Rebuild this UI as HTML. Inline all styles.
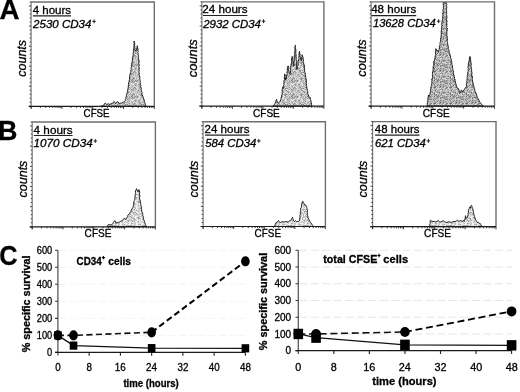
<!DOCTYPE html>
<html><head><meta charset="utf-8"><title>Figure</title>
<style>
html,body{margin:0;padding:0;background:#fff;}
body{width:520px;height:392px;overflow:hidden;}
svg{display:block;filter:blur(0.35px);}
text{font-family:"Liberation Sans",sans-serif;stroke:#000;stroke-width:0.3px;}
</style></head><body>
<svg width="520" height="392" viewBox="0 0 520 392">
<rect width="520" height="392" fill="#fff"/>
<defs><pattern id="stA" width="16" height="16" patternUnits="userSpaceOnUse"><rect x="0" y="0" width="1" height="1" fill="#d0d0d0"/><rect x="1" y="0" width="1" height="1" fill="#a8a8a8"/><rect x="2" y="0" width="1" height="1" fill="#d0d0d0"/><rect x="3" y="0" width="1" height="1" fill="#888888"/><rect x="4" y="0" width="1" height="1" fill="#a8a8a8"/><rect x="5" y="0" width="1" height="1" fill="#a8a8a8"/><rect x="6" y="0" width="1" height="1" fill="#d0d0d0"/><rect x="7" y="0" width="1" height="1" fill="#888888"/><rect x="8" y="0" width="1" height="1" fill="#bcbcbc"/><rect x="9" y="0" width="1" height="1" fill="#888888"/><rect x="10" y="0" width="1" height="1" fill="#a8a8a8"/><rect x="11" y="0" width="1" height="1" fill="#e4e4e4"/><rect x="12" y="0" width="1" height="1" fill="#e4e4e4"/><rect x="13" y="0" width="1" height="1" fill="#a8a8a8"/><rect x="14" y="0" width="1" height="1" fill="#bcbcbc"/><rect x="15" y="0" width="1" height="1" fill="#a8a8a8"/><rect x="0" y="1" width="1" height="1" fill="#e4e4e4"/><rect x="1" y="1" width="1" height="1" fill="#888888"/><rect x="2" y="1" width="1" height="1" fill="#a8a8a8"/><rect x="3" y="1" width="1" height="1" fill="#bcbcbc"/><rect x="4" y="1" width="1" height="1" fill="#888888"/><rect x="5" y="1" width="1" height="1" fill="#d0d0d0"/><rect x="6" y="1" width="1" height="1" fill="#888888"/><rect x="7" y="1" width="1" height="1" fill="#bcbcbc"/><rect x="8" y="1" width="1" height="1" fill="#888888"/><rect x="9" y="1" width="1" height="1" fill="#a8a8a8"/><rect x="10" y="1" width="1" height="1" fill="#d0d0d0"/><rect x="11" y="1" width="1" height="1" fill="#e4e4e4"/><rect x="12" y="1" width="1" height="1" fill="#a8a8a8"/><rect x="13" y="1" width="1" height="1" fill="#a8a8a8"/><rect x="14" y="1" width="1" height="1" fill="#d0d0d0"/><rect x="15" y="1" width="1" height="1" fill="#bcbcbc"/><rect x="0" y="2" width="1" height="1" fill="#a8a8a8"/><rect x="1" y="2" width="1" height="1" fill="#bcbcbc"/><rect x="2" y="2" width="1" height="1" fill="#d0d0d0"/><rect x="3" y="2" width="1" height="1" fill="#a8a8a8"/><rect x="4" y="2" width="1" height="1" fill="#a8a8a8"/><rect x="5" y="2" width="1" height="1" fill="#888888"/><rect x="6" y="2" width="1" height="1" fill="#bcbcbc"/><rect x="7" y="2" width="1" height="1" fill="#e4e4e4"/><rect x="8" y="2" width="1" height="1" fill="#e4e4e4"/><rect x="9" y="2" width="1" height="1" fill="#d0d0d0"/><rect x="10" y="2" width="1" height="1" fill="#e4e4e4"/><rect x="11" y="2" width="1" height="1" fill="#e4e4e4"/><rect x="12" y="2" width="1" height="1" fill="#d0d0d0"/><rect x="13" y="2" width="1" height="1" fill="#d0d0d0"/><rect x="14" y="2" width="1" height="1" fill="#bcbcbc"/><rect x="15" y="2" width="1" height="1" fill="#bcbcbc"/><rect x="0" y="3" width="1" height="1" fill="#bcbcbc"/><rect x="1" y="3" width="1" height="1" fill="#a8a8a8"/><rect x="2" y="3" width="1" height="1" fill="#d0d0d0"/><rect x="3" y="3" width="1" height="1" fill="#e4e4e4"/><rect x="4" y="3" width="1" height="1" fill="#d0d0d0"/><rect x="5" y="3" width="1" height="1" fill="#e4e4e4"/><rect x="6" y="3" width="1" height="1" fill="#d0d0d0"/><rect x="7" y="3" width="1" height="1" fill="#a8a8a8"/><rect x="8" y="3" width="1" height="1" fill="#a8a8a8"/><rect x="9" y="3" width="1" height="1" fill="#e4e4e4"/><rect x="10" y="3" width="1" height="1" fill="#bcbcbc"/><rect x="11" y="3" width="1" height="1" fill="#d0d0d0"/><rect x="12" y="3" width="1" height="1" fill="#a8a8a8"/><rect x="13" y="3" width="1" height="1" fill="#e4e4e4"/><rect x="14" y="3" width="1" height="1" fill="#e4e4e4"/><rect x="15" y="3" width="1" height="1" fill="#888888"/><rect x="0" y="4" width="1" height="1" fill="#a8a8a8"/><rect x="1" y="4" width="1" height="1" fill="#d0d0d0"/><rect x="2" y="4" width="1" height="1" fill="#d0d0d0"/><rect x="3" y="4" width="1" height="1" fill="#d0d0d0"/><rect x="4" y="4" width="1" height="1" fill="#e4e4e4"/><rect x="5" y="4" width="1" height="1" fill="#e4e4e4"/><rect x="6" y="4" width="1" height="1" fill="#a8a8a8"/><rect x="7" y="4" width="1" height="1" fill="#a8a8a8"/><rect x="8" y="4" width="1" height="1" fill="#bcbcbc"/><rect x="9" y="4" width="1" height="1" fill="#e4e4e4"/><rect x="10" y="4" width="1" height="1" fill="#a8a8a8"/><rect x="11" y="4" width="1" height="1" fill="#888888"/><rect x="12" y="4" width="1" height="1" fill="#d0d0d0"/><rect x="13" y="4" width="1" height="1" fill="#e4e4e4"/><rect x="14" y="4" width="1" height="1" fill="#d0d0d0"/><rect x="15" y="4" width="1" height="1" fill="#d0d0d0"/><rect x="0" y="5" width="1" height="1" fill="#d0d0d0"/><rect x="1" y="5" width="1" height="1" fill="#888888"/><rect x="2" y="5" width="1" height="1" fill="#e4e4e4"/><rect x="3" y="5" width="1" height="1" fill="#d0d0d0"/><rect x="4" y="5" width="1" height="1" fill="#bcbcbc"/><rect x="5" y="5" width="1" height="1" fill="#a8a8a8"/><rect x="6" y="5" width="1" height="1" fill="#e4e4e4"/><rect x="7" y="5" width="1" height="1" fill="#888888"/><rect x="8" y="5" width="1" height="1" fill="#bcbcbc"/><rect x="9" y="5" width="1" height="1" fill="#d0d0d0"/><rect x="10" y="5" width="1" height="1" fill="#a8a8a8"/><rect x="11" y="5" width="1" height="1" fill="#bcbcbc"/><rect x="12" y="5" width="1" height="1" fill="#d0d0d0"/><rect x="13" y="5" width="1" height="1" fill="#d0d0d0"/><rect x="14" y="5" width="1" height="1" fill="#e4e4e4"/><rect x="15" y="5" width="1" height="1" fill="#a8a8a8"/><rect x="0" y="6" width="1" height="1" fill="#bcbcbc"/><rect x="1" y="6" width="1" height="1" fill="#e4e4e4"/><rect x="2" y="6" width="1" height="1" fill="#d0d0d0"/><rect x="3" y="6" width="1" height="1" fill="#bcbcbc"/><rect x="4" y="6" width="1" height="1" fill="#a8a8a8"/><rect x="5" y="6" width="1" height="1" fill="#e4e4e4"/><rect x="6" y="6" width="1" height="1" fill="#bcbcbc"/><rect x="7" y="6" width="1" height="1" fill="#e4e4e4"/><rect x="8" y="6" width="1" height="1" fill="#d0d0d0"/><rect x="9" y="6" width="1" height="1" fill="#d0d0d0"/><rect x="10" y="6" width="1" height="1" fill="#bcbcbc"/><rect x="11" y="6" width="1" height="1" fill="#a8a8a8"/><rect x="12" y="6" width="1" height="1" fill="#a8a8a8"/><rect x="13" y="6" width="1" height="1" fill="#bcbcbc"/><rect x="14" y="6" width="1" height="1" fill="#a8a8a8"/><rect x="15" y="6" width="1" height="1" fill="#bcbcbc"/><rect x="0" y="7" width="1" height="1" fill="#bcbcbc"/><rect x="1" y="7" width="1" height="1" fill="#888888"/><rect x="2" y="7" width="1" height="1" fill="#e4e4e4"/><rect x="3" y="7" width="1" height="1" fill="#bcbcbc"/><rect x="4" y="7" width="1" height="1" fill="#bcbcbc"/><rect x="5" y="7" width="1" height="1" fill="#d0d0d0"/><rect x="6" y="7" width="1" height="1" fill="#888888"/><rect x="7" y="7" width="1" height="1" fill="#a8a8a8"/><rect x="8" y="7" width="1" height="1" fill="#e4e4e4"/><rect x="9" y="7" width="1" height="1" fill="#d0d0d0"/><rect x="10" y="7" width="1" height="1" fill="#d0d0d0"/><rect x="11" y="7" width="1" height="1" fill="#a8a8a8"/><rect x="12" y="7" width="1" height="1" fill="#888888"/><rect x="13" y="7" width="1" height="1" fill="#e4e4e4"/><rect x="14" y="7" width="1" height="1" fill="#d0d0d0"/><rect x="15" y="7" width="1" height="1" fill="#d0d0d0"/><rect x="0" y="8" width="1" height="1" fill="#d0d0d0"/><rect x="1" y="8" width="1" height="1" fill="#d0d0d0"/><rect x="2" y="8" width="1" height="1" fill="#a8a8a8"/><rect x="3" y="8" width="1" height="1" fill="#e4e4e4"/><rect x="4" y="8" width="1" height="1" fill="#d0d0d0"/><rect x="5" y="8" width="1" height="1" fill="#888888"/><rect x="6" y="8" width="1" height="1" fill="#bcbcbc"/><rect x="7" y="8" width="1" height="1" fill="#a8a8a8"/><rect x="8" y="8" width="1" height="1" fill="#bcbcbc"/><rect x="9" y="8" width="1" height="1" fill="#e4e4e4"/><rect x="10" y="8" width="1" height="1" fill="#bcbcbc"/><rect x="11" y="8" width="1" height="1" fill="#a8a8a8"/><rect x="12" y="8" width="1" height="1" fill="#d0d0d0"/><rect x="13" y="8" width="1" height="1" fill="#888888"/><rect x="14" y="8" width="1" height="1" fill="#a8a8a8"/><rect x="15" y="8" width="1" height="1" fill="#888888"/><rect x="0" y="9" width="1" height="1" fill="#a8a8a8"/><rect x="1" y="9" width="1" height="1" fill="#a8a8a8"/><rect x="2" y="9" width="1" height="1" fill="#d0d0d0"/><rect x="3" y="9" width="1" height="1" fill="#888888"/><rect x="4" y="9" width="1" height="1" fill="#a8a8a8"/><rect x="5" y="9" width="1" height="1" fill="#bcbcbc"/><rect x="6" y="9" width="1" height="1" fill="#d0d0d0"/><rect x="7" y="9" width="1" height="1" fill="#a8a8a8"/><rect x="8" y="9" width="1" height="1" fill="#bcbcbc"/><rect x="9" y="9" width="1" height="1" fill="#d0d0d0"/><rect x="10" y="9" width="1" height="1" fill="#d0d0d0"/><rect x="11" y="9" width="1" height="1" fill="#e4e4e4"/><rect x="12" y="9" width="1" height="1" fill="#a8a8a8"/><rect x="13" y="9" width="1" height="1" fill="#a8a8a8"/><rect x="14" y="9" width="1" height="1" fill="#e4e4e4"/><rect x="15" y="9" width="1" height="1" fill="#e4e4e4"/><rect x="0" y="10" width="1" height="1" fill="#e4e4e4"/><rect x="1" y="10" width="1" height="1" fill="#e4e4e4"/><rect x="2" y="10" width="1" height="1" fill="#d0d0d0"/><rect x="3" y="10" width="1" height="1" fill="#a8a8a8"/><rect x="4" y="10" width="1" height="1" fill="#a8a8a8"/><rect x="5" y="10" width="1" height="1" fill="#a8a8a8"/><rect x="6" y="10" width="1" height="1" fill="#d0d0d0"/><rect x="7" y="10" width="1" height="1" fill="#bcbcbc"/><rect x="8" y="10" width="1" height="1" fill="#e4e4e4"/><rect x="9" y="10" width="1" height="1" fill="#bcbcbc"/><rect x="10" y="10" width="1" height="1" fill="#888888"/><rect x="11" y="10" width="1" height="1" fill="#bcbcbc"/><rect x="12" y="10" width="1" height="1" fill="#d0d0d0"/><rect x="13" y="10" width="1" height="1" fill="#a8a8a8"/><rect x="14" y="10" width="1" height="1" fill="#888888"/><rect x="15" y="10" width="1" height="1" fill="#d0d0d0"/><rect x="0" y="11" width="1" height="1" fill="#a8a8a8"/><rect x="1" y="11" width="1" height="1" fill="#bcbcbc"/><rect x="2" y="11" width="1" height="1" fill="#d0d0d0"/><rect x="3" y="11" width="1" height="1" fill="#bcbcbc"/><rect x="4" y="11" width="1" height="1" fill="#d0d0d0"/><rect x="5" y="11" width="1" height="1" fill="#bcbcbc"/><rect x="6" y="11" width="1" height="1" fill="#d0d0d0"/><rect x="7" y="11" width="1" height="1" fill="#bcbcbc"/><rect x="8" y="11" width="1" height="1" fill="#bcbcbc"/><rect x="9" y="11" width="1" height="1" fill="#bcbcbc"/><rect x="10" y="11" width="1" height="1" fill="#d0d0d0"/><rect x="11" y="11" width="1" height="1" fill="#bcbcbc"/><rect x="12" y="11" width="1" height="1" fill="#bcbcbc"/><rect x="13" y="11" width="1" height="1" fill="#e4e4e4"/><rect x="14" y="11" width="1" height="1" fill="#d0d0d0"/><rect x="15" y="11" width="1" height="1" fill="#888888"/><rect x="0" y="12" width="1" height="1" fill="#888888"/><rect x="1" y="12" width="1" height="1" fill="#bcbcbc"/><rect x="2" y="12" width="1" height="1" fill="#e4e4e4"/><rect x="3" y="12" width="1" height="1" fill="#bcbcbc"/><rect x="4" y="12" width="1" height="1" fill="#bcbcbc"/><rect x="5" y="12" width="1" height="1" fill="#d0d0d0"/><rect x="6" y="12" width="1" height="1" fill="#e4e4e4"/><rect x="7" y="12" width="1" height="1" fill="#d0d0d0"/><rect x="8" y="12" width="1" height="1" fill="#d0d0d0"/><rect x="9" y="12" width="1" height="1" fill="#a8a8a8"/><rect x="10" y="12" width="1" height="1" fill="#bcbcbc"/><rect x="11" y="12" width="1" height="1" fill="#a8a8a8"/><rect x="12" y="12" width="1" height="1" fill="#bcbcbc"/><rect x="13" y="12" width="1" height="1" fill="#e4e4e4"/><rect x="14" y="12" width="1" height="1" fill="#bcbcbc"/><rect x="15" y="12" width="1" height="1" fill="#d0d0d0"/><rect x="0" y="13" width="1" height="1" fill="#bcbcbc"/><rect x="1" y="13" width="1" height="1" fill="#e4e4e4"/><rect x="2" y="13" width="1" height="1" fill="#888888"/><rect x="3" y="13" width="1" height="1" fill="#e4e4e4"/><rect x="4" y="13" width="1" height="1" fill="#d0d0d0"/><rect x="5" y="13" width="1" height="1" fill="#a8a8a8"/><rect x="6" y="13" width="1" height="1" fill="#a8a8a8"/><rect x="7" y="13" width="1" height="1" fill="#d0d0d0"/><rect x="8" y="13" width="1" height="1" fill="#bcbcbc"/><rect x="9" y="13" width="1" height="1" fill="#e4e4e4"/><rect x="10" y="13" width="1" height="1" fill="#bcbcbc"/><rect x="11" y="13" width="1" height="1" fill="#e4e4e4"/><rect x="12" y="13" width="1" height="1" fill="#d0d0d0"/><rect x="13" y="13" width="1" height="1" fill="#a8a8a8"/><rect x="14" y="13" width="1" height="1" fill="#d0d0d0"/><rect x="15" y="13" width="1" height="1" fill="#e4e4e4"/><rect x="0" y="14" width="1" height="1" fill="#d0d0d0"/><rect x="1" y="14" width="1" height="1" fill="#a8a8a8"/><rect x="2" y="14" width="1" height="1" fill="#bcbcbc"/><rect x="3" y="14" width="1" height="1" fill="#bcbcbc"/><rect x="4" y="14" width="1" height="1" fill="#a8a8a8"/><rect x="5" y="14" width="1" height="1" fill="#888888"/><rect x="6" y="14" width="1" height="1" fill="#a8a8a8"/><rect x="7" y="14" width="1" height="1" fill="#e4e4e4"/><rect x="8" y="14" width="1" height="1" fill="#a8a8a8"/><rect x="9" y="14" width="1" height="1" fill="#e4e4e4"/><rect x="10" y="14" width="1" height="1" fill="#d0d0d0"/><rect x="11" y="14" width="1" height="1" fill="#a8a8a8"/><rect x="12" y="14" width="1" height="1" fill="#a8a8a8"/><rect x="13" y="14" width="1" height="1" fill="#888888"/><rect x="14" y="14" width="1" height="1" fill="#888888"/><rect x="15" y="14" width="1" height="1" fill="#a8a8a8"/><rect x="0" y="15" width="1" height="1" fill="#a8a8a8"/><rect x="1" y="15" width="1" height="1" fill="#e4e4e4"/><rect x="2" y="15" width="1" height="1" fill="#bcbcbc"/><rect x="3" y="15" width="1" height="1" fill="#bcbcbc"/><rect x="4" y="15" width="1" height="1" fill="#888888"/><rect x="5" y="15" width="1" height="1" fill="#bcbcbc"/><rect x="6" y="15" width="1" height="1" fill="#bcbcbc"/><rect x="7" y="15" width="1" height="1" fill="#d0d0d0"/><rect x="8" y="15" width="1" height="1" fill="#bcbcbc"/><rect x="9" y="15" width="1" height="1" fill="#d0d0d0"/><rect x="10" y="15" width="1" height="1" fill="#bcbcbc"/><rect x="11" y="15" width="1" height="1" fill="#e4e4e4"/><rect x="12" y="15" width="1" height="1" fill="#a8a8a8"/><rect x="13" y="15" width="1" height="1" fill="#888888"/><rect x="14" y="15" width="1" height="1" fill="#d0d0d0"/><rect x="15" y="15" width="1" height="1" fill="#e4e4e4"/></pattern><pattern id="stA3" width="16" height="16" patternUnits="userSpaceOnUse"><rect x="0" y="0" width="1" height="1" fill="#a8a8a8"/><rect x="1" y="0" width="1" height="1" fill="#c0c0c0"/><rect x="2" y="0" width="1" height="1" fill="#707070"/><rect x="3" y="0" width="1" height="1" fill="#d8d8d8"/><rect x="4" y="0" width="1" height="1" fill="#a8a8a8"/><rect x="5" y="0" width="1" height="1" fill="#707070"/><rect x="6" y="0" width="1" height="1" fill="#a8a8a8"/><rect x="7" y="0" width="1" height="1" fill="#909090"/><rect x="8" y="0" width="1" height="1" fill="#c0c0c0"/><rect x="9" y="0" width="1" height="1" fill="#d8d8d8"/><rect x="10" y="0" width="1" height="1" fill="#a8a8a8"/><rect x="11" y="0" width="1" height="1" fill="#c0c0c0"/><rect x="12" y="0" width="1" height="1" fill="#909090"/><rect x="13" y="0" width="1" height="1" fill="#a8a8a8"/><rect x="14" y="0" width="1" height="1" fill="#707070"/><rect x="15" y="0" width="1" height="1" fill="#a8a8a8"/><rect x="0" y="1" width="1" height="1" fill="#d8d8d8"/><rect x="1" y="1" width="1" height="1" fill="#a8a8a8"/><rect x="2" y="1" width="1" height="1" fill="#a8a8a8"/><rect x="3" y="1" width="1" height="1" fill="#c0c0c0"/><rect x="4" y="1" width="1" height="1" fill="#a8a8a8"/><rect x="5" y="1" width="1" height="1" fill="#909090"/><rect x="6" y="1" width="1" height="1" fill="#909090"/><rect x="7" y="1" width="1" height="1" fill="#d8d8d8"/><rect x="8" y="1" width="1" height="1" fill="#909090"/><rect x="9" y="1" width="1" height="1" fill="#909090"/><rect x="10" y="1" width="1" height="1" fill="#707070"/><rect x="11" y="1" width="1" height="1" fill="#707070"/><rect x="12" y="1" width="1" height="1" fill="#a8a8a8"/><rect x="13" y="1" width="1" height="1" fill="#a8a8a8"/><rect x="14" y="1" width="1" height="1" fill="#a8a8a8"/><rect x="15" y="1" width="1" height="1" fill="#a8a8a8"/><rect x="0" y="2" width="1" height="1" fill="#c0c0c0"/><rect x="1" y="2" width="1" height="1" fill="#c0c0c0"/><rect x="2" y="2" width="1" height="1" fill="#a8a8a8"/><rect x="3" y="2" width="1" height="1" fill="#a8a8a8"/><rect x="4" y="2" width="1" height="1" fill="#a8a8a8"/><rect x="5" y="2" width="1" height="1" fill="#a8a8a8"/><rect x="6" y="2" width="1" height="1" fill="#c0c0c0"/><rect x="7" y="2" width="1" height="1" fill="#c0c0c0"/><rect x="8" y="2" width="1" height="1" fill="#707070"/><rect x="9" y="2" width="1" height="1" fill="#c0c0c0"/><rect x="10" y="2" width="1" height="1" fill="#d8d8d8"/><rect x="11" y="2" width="1" height="1" fill="#a8a8a8"/><rect x="12" y="2" width="1" height="1" fill="#909090"/><rect x="13" y="2" width="1" height="1" fill="#a8a8a8"/><rect x="14" y="2" width="1" height="1" fill="#909090"/><rect x="15" y="2" width="1" height="1" fill="#c0c0c0"/><rect x="0" y="3" width="1" height="1" fill="#c0c0c0"/><rect x="1" y="3" width="1" height="1" fill="#707070"/><rect x="2" y="3" width="1" height="1" fill="#c0c0c0"/><rect x="3" y="3" width="1" height="1" fill="#909090"/><rect x="4" y="3" width="1" height="1" fill="#c0c0c0"/><rect x="5" y="3" width="1" height="1" fill="#c0c0c0"/><rect x="6" y="3" width="1" height="1" fill="#c0c0c0"/><rect x="7" y="3" width="1" height="1" fill="#d8d8d8"/><rect x="8" y="3" width="1" height="1" fill="#c0c0c0"/><rect x="9" y="3" width="1" height="1" fill="#a8a8a8"/><rect x="10" y="3" width="1" height="1" fill="#d8d8d8"/><rect x="11" y="3" width="1" height="1" fill="#d8d8d8"/><rect x="12" y="3" width="1" height="1" fill="#a8a8a8"/><rect x="13" y="3" width="1" height="1" fill="#707070"/><rect x="14" y="3" width="1" height="1" fill="#a8a8a8"/><rect x="15" y="3" width="1" height="1" fill="#707070"/><rect x="0" y="4" width="1" height="1" fill="#c0c0c0"/><rect x="1" y="4" width="1" height="1" fill="#c0c0c0"/><rect x="2" y="4" width="1" height="1" fill="#707070"/><rect x="3" y="4" width="1" height="1" fill="#d8d8d8"/><rect x="4" y="4" width="1" height="1" fill="#c0c0c0"/><rect x="5" y="4" width="1" height="1" fill="#c0c0c0"/><rect x="6" y="4" width="1" height="1" fill="#707070"/><rect x="7" y="4" width="1" height="1" fill="#d8d8d8"/><rect x="8" y="4" width="1" height="1" fill="#707070"/><rect x="9" y="4" width="1" height="1" fill="#a8a8a8"/><rect x="10" y="4" width="1" height="1" fill="#a8a8a8"/><rect x="11" y="4" width="1" height="1" fill="#909090"/><rect x="12" y="4" width="1" height="1" fill="#a8a8a8"/><rect x="13" y="4" width="1" height="1" fill="#d8d8d8"/><rect x="14" y="4" width="1" height="1" fill="#c0c0c0"/><rect x="15" y="4" width="1" height="1" fill="#c0c0c0"/><rect x="0" y="5" width="1" height="1" fill="#a8a8a8"/><rect x="1" y="5" width="1" height="1" fill="#d8d8d8"/><rect x="2" y="5" width="1" height="1" fill="#909090"/><rect x="3" y="5" width="1" height="1" fill="#c0c0c0"/><rect x="4" y="5" width="1" height="1" fill="#c0c0c0"/><rect x="5" y="5" width="1" height="1" fill="#707070"/><rect x="6" y="5" width="1" height="1" fill="#d8d8d8"/><rect x="7" y="5" width="1" height="1" fill="#909090"/><rect x="8" y="5" width="1" height="1" fill="#a8a8a8"/><rect x="9" y="5" width="1" height="1" fill="#c0c0c0"/><rect x="10" y="5" width="1" height="1" fill="#c0c0c0"/><rect x="11" y="5" width="1" height="1" fill="#909090"/><rect x="12" y="5" width="1" height="1" fill="#c0c0c0"/><rect x="13" y="5" width="1" height="1" fill="#a8a8a8"/><rect x="14" y="5" width="1" height="1" fill="#909090"/><rect x="15" y="5" width="1" height="1" fill="#c0c0c0"/><rect x="0" y="6" width="1" height="1" fill="#c0c0c0"/><rect x="1" y="6" width="1" height="1" fill="#c0c0c0"/><rect x="2" y="6" width="1" height="1" fill="#a8a8a8"/><rect x="3" y="6" width="1" height="1" fill="#909090"/><rect x="4" y="6" width="1" height="1" fill="#909090"/><rect x="5" y="6" width="1" height="1" fill="#c0c0c0"/><rect x="6" y="6" width="1" height="1" fill="#d8d8d8"/><rect x="7" y="6" width="1" height="1" fill="#a8a8a8"/><rect x="8" y="6" width="1" height="1" fill="#707070"/><rect x="9" y="6" width="1" height="1" fill="#909090"/><rect x="10" y="6" width="1" height="1" fill="#c0c0c0"/><rect x="11" y="6" width="1" height="1" fill="#707070"/><rect x="12" y="6" width="1" height="1" fill="#a8a8a8"/><rect x="13" y="6" width="1" height="1" fill="#c0c0c0"/><rect x="14" y="6" width="1" height="1" fill="#a8a8a8"/><rect x="15" y="6" width="1" height="1" fill="#d8d8d8"/><rect x="0" y="7" width="1" height="1" fill="#d8d8d8"/><rect x="1" y="7" width="1" height="1" fill="#909090"/><rect x="2" y="7" width="1" height="1" fill="#707070"/><rect x="3" y="7" width="1" height="1" fill="#707070"/><rect x="4" y="7" width="1" height="1" fill="#d8d8d8"/><rect x="5" y="7" width="1" height="1" fill="#c0c0c0"/><rect x="6" y="7" width="1" height="1" fill="#a8a8a8"/><rect x="7" y="7" width="1" height="1" fill="#909090"/><rect x="8" y="7" width="1" height="1" fill="#909090"/><rect x="9" y="7" width="1" height="1" fill="#d8d8d8"/><rect x="10" y="7" width="1" height="1" fill="#909090"/><rect x="11" y="7" width="1" height="1" fill="#a8a8a8"/><rect x="12" y="7" width="1" height="1" fill="#d8d8d8"/><rect x="13" y="7" width="1" height="1" fill="#c0c0c0"/><rect x="14" y="7" width="1" height="1" fill="#909090"/><rect x="15" y="7" width="1" height="1" fill="#707070"/><rect x="0" y="8" width="1" height="1" fill="#d8d8d8"/><rect x="1" y="8" width="1" height="1" fill="#c0c0c0"/><rect x="2" y="8" width="1" height="1" fill="#909090"/><rect x="3" y="8" width="1" height="1" fill="#d8d8d8"/><rect x="4" y="8" width="1" height="1" fill="#a8a8a8"/><rect x="5" y="8" width="1" height="1" fill="#d8d8d8"/><rect x="6" y="8" width="1" height="1" fill="#d8d8d8"/><rect x="7" y="8" width="1" height="1" fill="#c0c0c0"/><rect x="8" y="8" width="1" height="1" fill="#d8d8d8"/><rect x="9" y="8" width="1" height="1" fill="#a8a8a8"/><rect x="10" y="8" width="1" height="1" fill="#c0c0c0"/><rect x="11" y="8" width="1" height="1" fill="#d8d8d8"/><rect x="12" y="8" width="1" height="1" fill="#c0c0c0"/><rect x="13" y="8" width="1" height="1" fill="#909090"/><rect x="14" y="8" width="1" height="1" fill="#909090"/><rect x="15" y="8" width="1" height="1" fill="#c0c0c0"/><rect x="0" y="9" width="1" height="1" fill="#a8a8a8"/><rect x="1" y="9" width="1" height="1" fill="#d8d8d8"/><rect x="2" y="9" width="1" height="1" fill="#c0c0c0"/><rect x="3" y="9" width="1" height="1" fill="#a8a8a8"/><rect x="4" y="9" width="1" height="1" fill="#909090"/><rect x="5" y="9" width="1" height="1" fill="#d8d8d8"/><rect x="6" y="9" width="1" height="1" fill="#a8a8a8"/><rect x="7" y="9" width="1" height="1" fill="#c0c0c0"/><rect x="8" y="9" width="1" height="1" fill="#909090"/><rect x="9" y="9" width="1" height="1" fill="#c0c0c0"/><rect x="10" y="9" width="1" height="1" fill="#707070"/><rect x="11" y="9" width="1" height="1" fill="#c0c0c0"/><rect x="12" y="9" width="1" height="1" fill="#c0c0c0"/><rect x="13" y="9" width="1" height="1" fill="#a8a8a8"/><rect x="14" y="9" width="1" height="1" fill="#d8d8d8"/><rect x="15" y="9" width="1" height="1" fill="#a8a8a8"/><rect x="0" y="10" width="1" height="1" fill="#c0c0c0"/><rect x="1" y="10" width="1" height="1" fill="#c0c0c0"/><rect x="2" y="10" width="1" height="1" fill="#a8a8a8"/><rect x="3" y="10" width="1" height="1" fill="#707070"/><rect x="4" y="10" width="1" height="1" fill="#d8d8d8"/><rect x="5" y="10" width="1" height="1" fill="#a8a8a8"/><rect x="6" y="10" width="1" height="1" fill="#c0c0c0"/><rect x="7" y="10" width="1" height="1" fill="#a8a8a8"/><rect x="8" y="10" width="1" height="1" fill="#d8d8d8"/><rect x="9" y="10" width="1" height="1" fill="#c0c0c0"/><rect x="10" y="10" width="1" height="1" fill="#c0c0c0"/><rect x="11" y="10" width="1" height="1" fill="#c0c0c0"/><rect x="12" y="10" width="1" height="1" fill="#a8a8a8"/><rect x="13" y="10" width="1" height="1" fill="#c0c0c0"/><rect x="14" y="10" width="1" height="1" fill="#d8d8d8"/><rect x="15" y="10" width="1" height="1" fill="#c0c0c0"/><rect x="0" y="11" width="1" height="1" fill="#a8a8a8"/><rect x="1" y="11" width="1" height="1" fill="#d8d8d8"/><rect x="2" y="11" width="1" height="1" fill="#c0c0c0"/><rect x="3" y="11" width="1" height="1" fill="#c0c0c0"/><rect x="4" y="11" width="1" height="1" fill="#909090"/><rect x="5" y="11" width="1" height="1" fill="#a8a8a8"/><rect x="6" y="11" width="1" height="1" fill="#a8a8a8"/><rect x="7" y="11" width="1" height="1" fill="#c0c0c0"/><rect x="8" y="11" width="1" height="1" fill="#d8d8d8"/><rect x="9" y="11" width="1" height="1" fill="#c0c0c0"/><rect x="10" y="11" width="1" height="1" fill="#909090"/><rect x="11" y="11" width="1" height="1" fill="#d8d8d8"/><rect x="12" y="11" width="1" height="1" fill="#a8a8a8"/><rect x="13" y="11" width="1" height="1" fill="#d8d8d8"/><rect x="14" y="11" width="1" height="1" fill="#c0c0c0"/><rect x="15" y="11" width="1" height="1" fill="#a8a8a8"/><rect x="0" y="12" width="1" height="1" fill="#707070"/><rect x="1" y="12" width="1" height="1" fill="#a8a8a8"/><rect x="2" y="12" width="1" height="1" fill="#a8a8a8"/><rect x="3" y="12" width="1" height="1" fill="#d8d8d8"/><rect x="4" y="12" width="1" height="1" fill="#a8a8a8"/><rect x="5" y="12" width="1" height="1" fill="#a8a8a8"/><rect x="6" y="12" width="1" height="1" fill="#a8a8a8"/><rect x="7" y="12" width="1" height="1" fill="#707070"/><rect x="8" y="12" width="1" height="1" fill="#d8d8d8"/><rect x="9" y="12" width="1" height="1" fill="#a8a8a8"/><rect x="10" y="12" width="1" height="1" fill="#a8a8a8"/><rect x="11" y="12" width="1" height="1" fill="#707070"/><rect x="12" y="12" width="1" height="1" fill="#909090"/><rect x="13" y="12" width="1" height="1" fill="#909090"/><rect x="14" y="12" width="1" height="1" fill="#c0c0c0"/><rect x="15" y="12" width="1" height="1" fill="#a8a8a8"/><rect x="0" y="13" width="1" height="1" fill="#d8d8d8"/><rect x="1" y="13" width="1" height="1" fill="#a8a8a8"/><rect x="2" y="13" width="1" height="1" fill="#707070"/><rect x="3" y="13" width="1" height="1" fill="#d8d8d8"/><rect x="4" y="13" width="1" height="1" fill="#d8d8d8"/><rect x="5" y="13" width="1" height="1" fill="#c0c0c0"/><rect x="6" y="13" width="1" height="1" fill="#c0c0c0"/><rect x="7" y="13" width="1" height="1" fill="#909090"/><rect x="8" y="13" width="1" height="1" fill="#a8a8a8"/><rect x="9" y="13" width="1" height="1" fill="#a8a8a8"/><rect x="10" y="13" width="1" height="1" fill="#c0c0c0"/><rect x="11" y="13" width="1" height="1" fill="#707070"/><rect x="12" y="13" width="1" height="1" fill="#c0c0c0"/><rect x="13" y="13" width="1" height="1" fill="#c0c0c0"/><rect x="14" y="13" width="1" height="1" fill="#a8a8a8"/><rect x="15" y="13" width="1" height="1" fill="#d8d8d8"/><rect x="0" y="14" width="1" height="1" fill="#909090"/><rect x="1" y="14" width="1" height="1" fill="#c0c0c0"/><rect x="2" y="14" width="1" height="1" fill="#707070"/><rect x="3" y="14" width="1" height="1" fill="#c0c0c0"/><rect x="4" y="14" width="1" height="1" fill="#909090"/><rect x="5" y="14" width="1" height="1" fill="#c0c0c0"/><rect x="6" y="14" width="1" height="1" fill="#c0c0c0"/><rect x="7" y="14" width="1" height="1" fill="#c0c0c0"/><rect x="8" y="14" width="1" height="1" fill="#c0c0c0"/><rect x="9" y="14" width="1" height="1" fill="#909090"/><rect x="10" y="14" width="1" height="1" fill="#d8d8d8"/><rect x="11" y="14" width="1" height="1" fill="#d8d8d8"/><rect x="12" y="14" width="1" height="1" fill="#c0c0c0"/><rect x="13" y="14" width="1" height="1" fill="#d8d8d8"/><rect x="14" y="14" width="1" height="1" fill="#909090"/><rect x="15" y="14" width="1" height="1" fill="#a8a8a8"/><rect x="0" y="15" width="1" height="1" fill="#c0c0c0"/><rect x="1" y="15" width="1" height="1" fill="#d8d8d8"/><rect x="2" y="15" width="1" height="1" fill="#a8a8a8"/><rect x="3" y="15" width="1" height="1" fill="#909090"/><rect x="4" y="15" width="1" height="1" fill="#909090"/><rect x="5" y="15" width="1" height="1" fill="#c0c0c0"/><rect x="6" y="15" width="1" height="1" fill="#707070"/><rect x="7" y="15" width="1" height="1" fill="#c0c0c0"/><rect x="8" y="15" width="1" height="1" fill="#909090"/><rect x="9" y="15" width="1" height="1" fill="#c0c0c0"/><rect x="10" y="15" width="1" height="1" fill="#909090"/><rect x="11" y="15" width="1" height="1" fill="#c0c0c0"/><rect x="12" y="15" width="1" height="1" fill="#c0c0c0"/><rect x="13" y="15" width="1" height="1" fill="#d8d8d8"/><rect x="14" y="15" width="1" height="1" fill="#d8d8d8"/><rect x="15" y="15" width="1" height="1" fill="#a8a8a8"/></pattern><pattern id="stB" width="16" height="16" patternUnits="userSpaceOnUse"><rect x="0" y="0" width="1" height="1" fill="#f4f4f4"/><rect x="1" y="0" width="1" height="1" fill="#f4f4f4"/><rect x="2" y="0" width="1" height="1" fill="#f4f4f4"/><rect x="3" y="0" width="1" height="1" fill="#d4d4d4"/><rect x="4" y="0" width="1" height="1" fill="#d4d4d4"/><rect x="5" y="0" width="1" height="1" fill="#f4f4f4"/><rect x="6" y="0" width="1" height="1" fill="#d4d4d4"/><rect x="7" y="0" width="1" height="1" fill="#c0c0c0"/><rect x="8" y="0" width="1" height="1" fill="#f4f4f4"/><rect x="9" y="0" width="1" height="1" fill="#e4e4e4"/><rect x="10" y="0" width="1" height="1" fill="#c0c0c0"/><rect x="11" y="0" width="1" height="1" fill="#c0c0c0"/><rect x="12" y="0" width="1" height="1" fill="#a0a0a0"/><rect x="13" y="0" width="1" height="1" fill="#e4e4e4"/><rect x="14" y="0" width="1" height="1" fill="#f4f4f4"/><rect x="15" y="0" width="1" height="1" fill="#d4d4d4"/><rect x="0" y="1" width="1" height="1" fill="#a0a0a0"/><rect x="1" y="1" width="1" height="1" fill="#c0c0c0"/><rect x="2" y="1" width="1" height="1" fill="#a0a0a0"/><rect x="3" y="1" width="1" height="1" fill="#a0a0a0"/><rect x="4" y="1" width="1" height="1" fill="#d4d4d4"/><rect x="5" y="1" width="1" height="1" fill="#d4d4d4"/><rect x="6" y="1" width="1" height="1" fill="#a0a0a0"/><rect x="7" y="1" width="1" height="1" fill="#f4f4f4"/><rect x="8" y="1" width="1" height="1" fill="#e4e4e4"/><rect x="9" y="1" width="1" height="1" fill="#f4f4f4"/><rect x="10" y="1" width="1" height="1" fill="#d4d4d4"/><rect x="11" y="1" width="1" height="1" fill="#d4d4d4"/><rect x="12" y="1" width="1" height="1" fill="#e4e4e4"/><rect x="13" y="1" width="1" height="1" fill="#f4f4f4"/><rect x="14" y="1" width="1" height="1" fill="#a0a0a0"/><rect x="15" y="1" width="1" height="1" fill="#c0c0c0"/><rect x="0" y="2" width="1" height="1" fill="#f4f4f4"/><rect x="1" y="2" width="1" height="1" fill="#d4d4d4"/><rect x="2" y="2" width="1" height="1" fill="#f4f4f4"/><rect x="3" y="2" width="1" height="1" fill="#c0c0c0"/><rect x="4" y="2" width="1" height="1" fill="#d4d4d4"/><rect x="5" y="2" width="1" height="1" fill="#e4e4e4"/><rect x="6" y="2" width="1" height="1" fill="#d4d4d4"/><rect x="7" y="2" width="1" height="1" fill="#e4e4e4"/><rect x="8" y="2" width="1" height="1" fill="#a0a0a0"/><rect x="9" y="2" width="1" height="1" fill="#c0c0c0"/><rect x="10" y="2" width="1" height="1" fill="#c0c0c0"/><rect x="11" y="2" width="1" height="1" fill="#e4e4e4"/><rect x="12" y="2" width="1" height="1" fill="#c0c0c0"/><rect x="13" y="2" width="1" height="1" fill="#e4e4e4"/><rect x="14" y="2" width="1" height="1" fill="#e4e4e4"/><rect x="15" y="2" width="1" height="1" fill="#c0c0c0"/><rect x="0" y="3" width="1" height="1" fill="#a0a0a0"/><rect x="1" y="3" width="1" height="1" fill="#a0a0a0"/><rect x="2" y="3" width="1" height="1" fill="#d4d4d4"/><rect x="3" y="3" width="1" height="1" fill="#d4d4d4"/><rect x="4" y="3" width="1" height="1" fill="#a0a0a0"/><rect x="5" y="3" width="1" height="1" fill="#f4f4f4"/><rect x="6" y="3" width="1" height="1" fill="#e4e4e4"/><rect x="7" y="3" width="1" height="1" fill="#e4e4e4"/><rect x="8" y="3" width="1" height="1" fill="#f4f4f4"/><rect x="9" y="3" width="1" height="1" fill="#c0c0c0"/><rect x="10" y="3" width="1" height="1" fill="#d4d4d4"/><rect x="11" y="3" width="1" height="1" fill="#d4d4d4"/><rect x="12" y="3" width="1" height="1" fill="#e4e4e4"/><rect x="13" y="3" width="1" height="1" fill="#c0c0c0"/><rect x="14" y="3" width="1" height="1" fill="#e4e4e4"/><rect x="15" y="3" width="1" height="1" fill="#e4e4e4"/><rect x="0" y="4" width="1" height="1" fill="#a0a0a0"/><rect x="1" y="4" width="1" height="1" fill="#f4f4f4"/><rect x="2" y="4" width="1" height="1" fill="#c0c0c0"/><rect x="3" y="4" width="1" height="1" fill="#c0c0c0"/><rect x="4" y="4" width="1" height="1" fill="#d4d4d4"/><rect x="5" y="4" width="1" height="1" fill="#c0c0c0"/><rect x="6" y="4" width="1" height="1" fill="#a0a0a0"/><rect x="7" y="4" width="1" height="1" fill="#a0a0a0"/><rect x="8" y="4" width="1" height="1" fill="#f4f4f4"/><rect x="9" y="4" width="1" height="1" fill="#f4f4f4"/><rect x="10" y="4" width="1" height="1" fill="#d4d4d4"/><rect x="11" y="4" width="1" height="1" fill="#d4d4d4"/><rect x="12" y="4" width="1" height="1" fill="#f4f4f4"/><rect x="13" y="4" width="1" height="1" fill="#d4d4d4"/><rect x="14" y="4" width="1" height="1" fill="#c0c0c0"/><rect x="15" y="4" width="1" height="1" fill="#f4f4f4"/><rect x="0" y="5" width="1" height="1" fill="#e4e4e4"/><rect x="1" y="5" width="1" height="1" fill="#c0c0c0"/><rect x="2" y="5" width="1" height="1" fill="#e4e4e4"/><rect x="3" y="5" width="1" height="1" fill="#f4f4f4"/><rect x="4" y="5" width="1" height="1" fill="#d4d4d4"/><rect x="5" y="5" width="1" height="1" fill="#a0a0a0"/><rect x="6" y="5" width="1" height="1" fill="#d4d4d4"/><rect x="7" y="5" width="1" height="1" fill="#e4e4e4"/><rect x="8" y="5" width="1" height="1" fill="#a0a0a0"/><rect x="9" y="5" width="1" height="1" fill="#d4d4d4"/><rect x="10" y="5" width="1" height="1" fill="#d4d4d4"/><rect x="11" y="5" width="1" height="1" fill="#e4e4e4"/><rect x="12" y="5" width="1" height="1" fill="#c0c0c0"/><rect x="13" y="5" width="1" height="1" fill="#a0a0a0"/><rect x="14" y="5" width="1" height="1" fill="#c0c0c0"/><rect x="15" y="5" width="1" height="1" fill="#d4d4d4"/><rect x="0" y="6" width="1" height="1" fill="#f4f4f4"/><rect x="1" y="6" width="1" height="1" fill="#d4d4d4"/><rect x="2" y="6" width="1" height="1" fill="#a0a0a0"/><rect x="3" y="6" width="1" height="1" fill="#e4e4e4"/><rect x="4" y="6" width="1" height="1" fill="#e4e4e4"/><rect x="5" y="6" width="1" height="1" fill="#e4e4e4"/><rect x="6" y="6" width="1" height="1" fill="#c0c0c0"/><rect x="7" y="6" width="1" height="1" fill="#c0c0c0"/><rect x="8" y="6" width="1" height="1" fill="#c0c0c0"/><rect x="9" y="6" width="1" height="1" fill="#d4d4d4"/><rect x="10" y="6" width="1" height="1" fill="#d4d4d4"/><rect x="11" y="6" width="1" height="1" fill="#a0a0a0"/><rect x="12" y="6" width="1" height="1" fill="#e4e4e4"/><rect x="13" y="6" width="1" height="1" fill="#e4e4e4"/><rect x="14" y="6" width="1" height="1" fill="#f4f4f4"/><rect x="15" y="6" width="1" height="1" fill="#c0c0c0"/><rect x="0" y="7" width="1" height="1" fill="#f4f4f4"/><rect x="1" y="7" width="1" height="1" fill="#c0c0c0"/><rect x="2" y="7" width="1" height="1" fill="#e4e4e4"/><rect x="3" y="7" width="1" height="1" fill="#d4d4d4"/><rect x="4" y="7" width="1" height="1" fill="#c0c0c0"/><rect x="5" y="7" width="1" height="1" fill="#e4e4e4"/><rect x="6" y="7" width="1" height="1" fill="#d4d4d4"/><rect x="7" y="7" width="1" height="1" fill="#d4d4d4"/><rect x="8" y="7" width="1" height="1" fill="#d4d4d4"/><rect x="9" y="7" width="1" height="1" fill="#d4d4d4"/><rect x="10" y="7" width="1" height="1" fill="#d4d4d4"/><rect x="11" y="7" width="1" height="1" fill="#e4e4e4"/><rect x="12" y="7" width="1" height="1" fill="#f4f4f4"/><rect x="13" y="7" width="1" height="1" fill="#c0c0c0"/><rect x="14" y="7" width="1" height="1" fill="#f4f4f4"/><rect x="15" y="7" width="1" height="1" fill="#a0a0a0"/><rect x="0" y="8" width="1" height="1" fill="#c0c0c0"/><rect x="1" y="8" width="1" height="1" fill="#c0c0c0"/><rect x="2" y="8" width="1" height="1" fill="#a0a0a0"/><rect x="3" y="8" width="1" height="1" fill="#d4d4d4"/><rect x="4" y="8" width="1" height="1" fill="#d4d4d4"/><rect x="5" y="8" width="1" height="1" fill="#e4e4e4"/><rect x="6" y="8" width="1" height="1" fill="#d4d4d4"/><rect x="7" y="8" width="1" height="1" fill="#f4f4f4"/><rect x="8" y="8" width="1" height="1" fill="#f4f4f4"/><rect x="9" y="8" width="1" height="1" fill="#e4e4e4"/><rect x="10" y="8" width="1" height="1" fill="#d4d4d4"/><rect x="11" y="8" width="1" height="1" fill="#c0c0c0"/><rect x="12" y="8" width="1" height="1" fill="#c0c0c0"/><rect x="13" y="8" width="1" height="1" fill="#d4d4d4"/><rect x="14" y="8" width="1" height="1" fill="#f4f4f4"/><rect x="15" y="8" width="1" height="1" fill="#c0c0c0"/><rect x="0" y="9" width="1" height="1" fill="#d4d4d4"/><rect x="1" y="9" width="1" height="1" fill="#d4d4d4"/><rect x="2" y="9" width="1" height="1" fill="#d4d4d4"/><rect x="3" y="9" width="1" height="1" fill="#a0a0a0"/><rect x="4" y="9" width="1" height="1" fill="#c0c0c0"/><rect x="5" y="9" width="1" height="1" fill="#d4d4d4"/><rect x="6" y="9" width="1" height="1" fill="#f4f4f4"/><rect x="7" y="9" width="1" height="1" fill="#f4f4f4"/><rect x="8" y="9" width="1" height="1" fill="#d4d4d4"/><rect x="9" y="9" width="1" height="1" fill="#a0a0a0"/><rect x="10" y="9" width="1" height="1" fill="#a0a0a0"/><rect x="11" y="9" width="1" height="1" fill="#d4d4d4"/><rect x="12" y="9" width="1" height="1" fill="#e4e4e4"/><rect x="13" y="9" width="1" height="1" fill="#e4e4e4"/><rect x="14" y="9" width="1" height="1" fill="#c0c0c0"/><rect x="15" y="9" width="1" height="1" fill="#c0c0c0"/><rect x="0" y="10" width="1" height="1" fill="#e4e4e4"/><rect x="1" y="10" width="1" height="1" fill="#c0c0c0"/><rect x="2" y="10" width="1" height="1" fill="#f4f4f4"/><rect x="3" y="10" width="1" height="1" fill="#e4e4e4"/><rect x="4" y="10" width="1" height="1" fill="#c0c0c0"/><rect x="5" y="10" width="1" height="1" fill="#a0a0a0"/><rect x="6" y="10" width="1" height="1" fill="#a0a0a0"/><rect x="7" y="10" width="1" height="1" fill="#f4f4f4"/><rect x="8" y="10" width="1" height="1" fill="#e4e4e4"/><rect x="9" y="10" width="1" height="1" fill="#e4e4e4"/><rect x="10" y="10" width="1" height="1" fill="#a0a0a0"/><rect x="11" y="10" width="1" height="1" fill="#a0a0a0"/><rect x="12" y="10" width="1" height="1" fill="#c0c0c0"/><rect x="13" y="10" width="1" height="1" fill="#f4f4f4"/><rect x="14" y="10" width="1" height="1" fill="#c0c0c0"/><rect x="15" y="10" width="1" height="1" fill="#e4e4e4"/><rect x="0" y="11" width="1" height="1" fill="#e4e4e4"/><rect x="1" y="11" width="1" height="1" fill="#c0c0c0"/><rect x="2" y="11" width="1" height="1" fill="#c0c0c0"/><rect x="3" y="11" width="1" height="1" fill="#c0c0c0"/><rect x="4" y="11" width="1" height="1" fill="#f4f4f4"/><rect x="5" y="11" width="1" height="1" fill="#e4e4e4"/><rect x="6" y="11" width="1" height="1" fill="#a0a0a0"/><rect x="7" y="11" width="1" height="1" fill="#c0c0c0"/><rect x="8" y="11" width="1" height="1" fill="#e4e4e4"/><rect x="9" y="11" width="1" height="1" fill="#e4e4e4"/><rect x="10" y="11" width="1" height="1" fill="#c0c0c0"/><rect x="11" y="11" width="1" height="1" fill="#f4f4f4"/><rect x="12" y="11" width="1" height="1" fill="#c0c0c0"/><rect x="13" y="11" width="1" height="1" fill="#f4f4f4"/><rect x="14" y="11" width="1" height="1" fill="#a0a0a0"/><rect x="15" y="11" width="1" height="1" fill="#f4f4f4"/><rect x="0" y="12" width="1" height="1" fill="#a0a0a0"/><rect x="1" y="12" width="1" height="1" fill="#e4e4e4"/><rect x="2" y="12" width="1" height="1" fill="#e4e4e4"/><rect x="3" y="12" width="1" height="1" fill="#a0a0a0"/><rect x="4" y="12" width="1" height="1" fill="#c0c0c0"/><rect x="5" y="12" width="1" height="1" fill="#c0c0c0"/><rect x="6" y="12" width="1" height="1" fill="#c0c0c0"/><rect x="7" y="12" width="1" height="1" fill="#c0c0c0"/><rect x="8" y="12" width="1" height="1" fill="#d4d4d4"/><rect x="9" y="12" width="1" height="1" fill="#f4f4f4"/><rect x="10" y="12" width="1" height="1" fill="#e4e4e4"/><rect x="11" y="12" width="1" height="1" fill="#e4e4e4"/><rect x="12" y="12" width="1" height="1" fill="#f4f4f4"/><rect x="13" y="12" width="1" height="1" fill="#f4f4f4"/><rect x="14" y="12" width="1" height="1" fill="#f4f4f4"/><rect x="15" y="12" width="1" height="1" fill="#c0c0c0"/><rect x="0" y="13" width="1" height="1" fill="#a0a0a0"/><rect x="1" y="13" width="1" height="1" fill="#e4e4e4"/><rect x="2" y="13" width="1" height="1" fill="#c0c0c0"/><rect x="3" y="13" width="1" height="1" fill="#f4f4f4"/><rect x="4" y="13" width="1" height="1" fill="#a0a0a0"/><rect x="5" y="13" width="1" height="1" fill="#d4d4d4"/><rect x="6" y="13" width="1" height="1" fill="#c0c0c0"/><rect x="7" y="13" width="1" height="1" fill="#f4f4f4"/><rect x="8" y="13" width="1" height="1" fill="#f4f4f4"/><rect x="9" y="13" width="1" height="1" fill="#d4d4d4"/><rect x="10" y="13" width="1" height="1" fill="#a0a0a0"/><rect x="11" y="13" width="1" height="1" fill="#e4e4e4"/><rect x="12" y="13" width="1" height="1" fill="#e4e4e4"/><rect x="13" y="13" width="1" height="1" fill="#c0c0c0"/><rect x="14" y="13" width="1" height="1" fill="#d4d4d4"/><rect x="15" y="13" width="1" height="1" fill="#d4d4d4"/><rect x="0" y="14" width="1" height="1" fill="#e4e4e4"/><rect x="1" y="14" width="1" height="1" fill="#f4f4f4"/><rect x="2" y="14" width="1" height="1" fill="#f4f4f4"/><rect x="3" y="14" width="1" height="1" fill="#d4d4d4"/><rect x="4" y="14" width="1" height="1" fill="#e4e4e4"/><rect x="5" y="14" width="1" height="1" fill="#e4e4e4"/><rect x="6" y="14" width="1" height="1" fill="#d4d4d4"/><rect x="7" y="14" width="1" height="1" fill="#d4d4d4"/><rect x="8" y="14" width="1" height="1" fill="#f4f4f4"/><rect x="9" y="14" width="1" height="1" fill="#d4d4d4"/><rect x="10" y="14" width="1" height="1" fill="#d4d4d4"/><rect x="11" y="14" width="1" height="1" fill="#e4e4e4"/><rect x="12" y="14" width="1" height="1" fill="#d4d4d4"/><rect x="13" y="14" width="1" height="1" fill="#e4e4e4"/><rect x="14" y="14" width="1" height="1" fill="#d4d4d4"/><rect x="15" y="14" width="1" height="1" fill="#c0c0c0"/><rect x="0" y="15" width="1" height="1" fill="#c0c0c0"/><rect x="1" y="15" width="1" height="1" fill="#f4f4f4"/><rect x="2" y="15" width="1" height="1" fill="#e4e4e4"/><rect x="3" y="15" width="1" height="1" fill="#a0a0a0"/><rect x="4" y="15" width="1" height="1" fill="#c0c0c0"/><rect x="5" y="15" width="1" height="1" fill="#d4d4d4"/><rect x="6" y="15" width="1" height="1" fill="#d4d4d4"/><rect x="7" y="15" width="1" height="1" fill="#c0c0c0"/><rect x="8" y="15" width="1" height="1" fill="#f4f4f4"/><rect x="9" y="15" width="1" height="1" fill="#f4f4f4"/><rect x="10" y="15" width="1" height="1" fill="#d4d4d4"/><rect x="11" y="15" width="1" height="1" fill="#d4d4d4"/><rect x="12" y="15" width="1" height="1" fill="#f4f4f4"/><rect x="13" y="15" width="1" height="1" fill="#e4e4e4"/><rect x="14" y="15" width="1" height="1" fill="#f4f4f4"/><rect x="15" y="15" width="1" height="1" fill="#e4e4e4"/></pattern></defs>
<path d="M100.50 106.30 L101.25 106.10 L102.11 106.10 L103.01 105.71 L103.80 105.80 L103.88 105.24 L104.19 104.19 L104.50 103.60 L105.60 103.30 L106.36 103.93 L106.80 104.60 L107.51 104.19 L108.00 103.80 L108.79 103.91 L109.50 104.40 L110.29 104.15 L111.00 103.50 L111.76 103.53 L112.50 103.30 L113.13 102.45 L113.73 102.15 L114.20 101.50 L114.53 101.92 L115.13 102.88 L115.40 103.60 L116.17 103.12 L116.80 102.20 L118.00 101.70 L118.67 102.79 L119.20 103.40 L119.96 103.37 L120.80 103.00 L121.48 103.15 L122.20 102.80 L123.03 102.27 L123.60 102.20 L124.50 101.50 L125.30 100.50 L125.36 99.48 L125.89 98.79 L125.90 98.00 L126.12 97.02 L126.24 96.25 L126.40 95.50 L126.53 94.73 L126.84 94.16 L127.00 93.00 L127.25 92.57 L127.51 91.83 L127.57 90.30 L127.84 90.23 L127.80 89.00 L128.17 88.30 L128.19 87.18 L128.40 86.77 L128.20 85.49 L128.69 85.68 L128.60 84.40 L128.44 83.99 L128.76 82.53 L128.79 82.48 L129.30 80.92 L129.23 80.17 L129.41 79.76 L129.64 79.80 L129.48 79.09 L129.45 77.21 L129.70 77.00 L129.90 75.70 L129.71 75.48 L130.14 74.46 L129.83 74.67 L130.16 74.09 L130.72 72.64 L130.51 72.13 L130.77 71.52 L130.83 70.85 L130.90 70.00 L131.36 69.21 L131.09 68.68 L131.06 67.35 L131.75 66.83 L131.50 66.00 L131.66 64.57 L131.67 64.50 L131.49 63.75 L132.08 62.24 L132.10 62.00 L132.30 61.16 L132.44 60.21 L132.56 59.90 L132.13 58.24 L132.60 58.00 L132.89 57.84 L132.71 56.44 L133.12 55.52 L133.20 55.00 L133.15 54.05 L133.21 53.69 L133.22 52.70 L133.64 51.54 L133.54 51.73 L133.40 50.36 L133.60 50.00 L133.88 48.95 L133.45 48.49 L133.88 47.35 L133.63 46.93 L134.07 46.35 L134.13 45.29 L133.90 45.00 L133.83 44.39 L134.32 43.34 L133.87 42.11 L134.16 41.40 L134.20 41.00 L134.52 42.23 L134.12 42.32 L134.68 43.58 L134.76 44.00 L134.60 45.00 L134.37 45.45 L134.94 46.14 L134.65 47.04 L134.77 47.74 L135.21 48.13 L134.56 49.85 L135.00 50.00 L135.80 51.00 L136.29 50.87 L136.15 50.08 L136.73 48.39 L136.60 48.00 L137.02 47.66 L137.19 46.49 L137.30 45.70 L137.22 46.21 L137.26 46.58 L137.62 47.58 L137.87 47.98 L138.03 49.53 L137.80 50.00 L138.20 51.22 L138.25 51.53 L137.64 52.46 L137.83 52.60 L138.28 53.60 L138.16 54.85 L138.30 55.00 L138.46 55.51 L138.25 56.89 L138.50 57.50 L138.47 57.47 L138.68 58.98 L138.48 59.66 L138.80 60.00 L139.16 61.14 L139.12 60.87 L139.01 62.71 L138.60 62.71 L138.81 63.78 L138.97 64.47 L139.27 64.61 L139.10 66.00 L138.78 66.25 L138.85 66.90 L139.52 68.64 L138.85 68.91 L139.05 69.40 L139.09 70.55 L139.29 70.91 L139.01 71.60 L138.97 72.62 L139.45 73.12 L139.30 74.00 L139.06 74.34 L139.38 75.63 L139.78 76.10 L139.88 77.16 L139.69 77.59 L139.82 78.75 L139.86 79.48 L140.00 80.00 L140.06 80.44 L140.19 81.69 L139.96 82.12 L140.28 83.35 L140.70 83.53 L140.50 84.40 L140.86 85.40 L140.58 85.76 L140.61 86.82 L141.05 87.58 L141.23 88.06 L141.31 88.66 L141.07 89.38 L141.40 90.00 L141.26 90.40 L141.80 91.03 L141.58 91.80 L142.11 92.59 L141.81 93.85 L141.99 94.56 L142.30 95.00 L142.60 96.01 L142.95 96.56 L143.10 96.92 L143.20 98.00 L143.61 98.67 L143.89 99.07 L144.10 100.00 L144.43 101.11 L144.41 101.56 L144.80 102.50 L145.04 103.44 L145.16 103.85 L145.38 104.84 L145.76 105.49 L145.90 106.30 Z" fill="url(#stA)" stroke="#1a1a1a" stroke-width="1.0" stroke-linejoin="round"/>
<path d="M31.10 2.00H154.30V106.30" stroke="#6e6e6e" stroke-width="1.4" fill="none"/>
<path d="M31.10 1.50V108.50" stroke="#7a7a7a" stroke-width="1.2" fill="none"/>
<path d="M28.90 106.30H31.10M29.70 102.29H31.10M29.70 98.28H31.10M29.70 94.27H31.10M29.70 90.25H31.10M28.90 86.24H31.10M29.70 82.23H31.10M29.70 78.22H31.10M29.70 74.21H31.10M29.70 70.20H31.10M28.90 66.18H31.10M29.70 62.17H31.10M29.70 58.16H31.10M29.70 54.15H31.10M29.70 50.14H31.10M28.90 46.13H31.10M29.70 42.12H31.10M29.70 38.10H31.10M29.70 34.09H31.10M29.70 30.08H31.10M28.90 26.07H31.10M29.70 22.06H31.10M29.70 18.05H31.10M29.70 14.03H31.10M29.70 10.02H31.10M28.90 6.01H31.10M29.70 2.00H31.10" stroke="#333" stroke-width="0.9" fill="none"/>
<path d="M28.60 106.30H154.30" stroke="#1a1a1a" stroke-width="1.2" fill="none"/>
<path d="M31.10 106.30V108.90M40.37 106.30V107.90M45.80 106.30V107.90M49.64 106.30V107.90M52.63 106.30V107.90M55.07 106.30V107.90M57.13 106.30V107.90M58.92 106.30V107.90M60.49 106.30V107.90M61.90 106.30V108.90M71.17 106.30V107.90M76.60 106.30V107.90M80.44 106.30V107.90M83.43 106.30V107.90M85.87 106.30V107.90M87.93 106.30V107.90M89.72 106.30V107.90M91.29 106.30V107.90M92.70 106.30V108.90M101.97 106.30V107.90M107.40 106.30V107.90M111.24 106.30V107.90M114.23 106.30V107.90M116.67 106.30V107.90M118.73 106.30V107.90M120.52 106.30V107.90M122.09 106.30V107.90M123.50 106.30V108.90M132.77 106.30V107.90M138.20 106.30V107.90M142.04 106.30V107.90M145.03 106.30V107.90M147.47 106.30V107.90M149.53 106.30V107.90M151.32 106.30V107.90M152.89 106.30V107.90M154.30 106.30V108.90" stroke="#222" stroke-width="0.9" fill="none"/>
<text transform="translate(32.67,13.80) scale(1.0290,1)" font-size="11.2" fill="#000">4 hours</text>
<path d="M32.90 15.90H71.00" stroke="#222" stroke-width="1.2"/>
<text transform="translate(33.06,27.70) scale(1.0313,1)" font-size="11.2" font-style="italic" fill="#000">2530 CD34</text>
<path d="M92.40 21.40H95.80M94.10 19.50V23.30" stroke="#222" stroke-width="1.0" fill="none"/>
<text transform="translate(26.10,76.67) rotate(-90) scale(0.9592,1)" font-size="13.0" font-style="italic" fill="#000">counts</text>
<text transform="translate(83.61,116.50) scale(0.9373,1)" font-size="10.4" fill="#000">CFSE</text>
<path d="M272.90 106.20 L273.35 105.44 L273.93 104.89 L274.50 104.50 L274.68 103.70 L275.29 103.17 L275.57 102.09 L275.80 101.50 L276.08 100.63 L276.21 99.78 L276.60 99.30 L276.69 100.37 L277.12 101.09 L277.31 101.52 L277.40 102.50 L278.50 102.80 L279.08 102.37 L279.80 101.80 L280.22 101.25 L280.61 100.00 L280.80 99.50 L281.00 98.92 L281.12 97.88 L281.27 97.11 L281.63 96.97 L281.60 96.00 L281.75 95.07 L282.04 94.51 L282.16 93.96 L282.10 92.90 L282.15 92.10 L282.25 91.39 L282.07 90.55 L282.47 89.58 L282.10 89.39 L282.27 88.58 L282.43 87.67 L282.50 87.10 L283.14 87.50 L283.20 88.50 L283.27 87.51 L283.51 86.88 L283.46 86.65 L283.56 85.76 L284.04 84.58 L283.90 84.30 L283.68 83.29 L284.21 82.99 L283.92 81.96 L283.95 81.39 L283.92 80.95 L284.30 80.00 L284.65 79.78 L284.60 79.04 L284.13 77.45 L284.90 77.30 L284.54 76.75 L284.77 75.83 L284.58 74.27 L284.80 73.90 L284.86 74.20 L284.91 76.02 L284.97 75.56 L284.86 76.53 L285.51 77.54 L285.25 77.98 L285.85 79.15 L285.60 80.00 L285.69 78.81 L285.88 78.26 L286.50 78.00 L286.71 76.83 L286.31 76.53 L286.55 76.46 L286.54 75.13 L287.12 74.25 L287.37 73.61 L286.87 72.79 L286.80 72.08 L287.04 71.95 L287.57 70.73 L287.40 70.00 L287.20 68.89 L287.52 68.03 L287.67 68.07 L287.76 66.23 L288.20 66.00 L288.63 66.83 L288.78 67.38 L288.81 68.45 L288.82 69.31 L288.70 69.23 L288.58 70.98 L289.21 71.79 L289.00 72.00 L289.12 72.88 L289.73 73.53 L289.99 74.06 L290.00 74.70 L290.19 74.22 L289.96 73.81 L290.55 72.02 L290.63 72.44 L290.46 70.55 L290.71 69.94 L290.83 69.92 L290.20 68.57 L290.70 68.37 L290.86 68.11 L290.52 66.22 L291.12 65.52 L291.16 64.94 L291.17 65.08 L291.00 64.00 L291.41 63.31 L291.53 62.12 L291.49 61.53 L291.78 61.35 L291.58 60.28 L291.36 58.90 L291.91 58.74 L292.24 58.14 L291.80 57.07 L292.20 56.50 L292.52 57.32 L292.05 58.50 L292.79 58.33 L292.69 59.49 L292.99 60.19 L292.68 61.20 L293.00 62.00 L293.50 62.28 L292.98 63.75 L293.72 64.42 L293.51 65.66 L293.70 66.00 L293.97 64.71 L294.10 64.14 L293.71 64.23 L293.85 63.45 L293.71 62.81 L293.77 61.15 L294.07 60.66 L294.16 60.65 L294.34 58.77 L294.09 58.72 L294.28 58.21 L294.33 56.66 L294.20 56.91 L294.34 56.07 L294.50 55.00 L294.92 54.46 L294.74 53.74 L294.51 53.43 L294.67 52.73 L294.60 51.97 L295.02 50.94 L294.81 49.64 L295.11 49.22 L295.07 48.23 L294.68 47.54 L295.29 46.89 L295.41 46.44 L295.21 45.71 L295.20 45.20 L295.35 45.38 L295.24 47.16 L295.13 47.50 L295.30 47.74 L295.12 48.09 L295.89 49.82 L295.83 50.49 L296.01 50.36 L295.78 51.49 L295.83 52.76 L296.03 53.50 L295.59 53.79 L296.08 54.61 L296.00 55.00 L296.14 56.15 L295.95 57.00 L296.08 57.30 L296.50 58.16 L296.10 58.28 L296.17 59.51 L296.73 60.59 L296.32 60.67 L296.69 61.25 L296.43 61.63 L296.31 63.03 L296.75 63.85 L296.55 65.00 L296.79 64.71 L296.42 66.48 L297.17 67.14 L296.93 67.08 L296.59 67.74 L296.74 69.32 L297.00 69.50 L297.44 69.07 L297.02 67.59 L297.27 67.72 L297.31 66.73 L297.85 65.63 L298.21 64.48 L298.00 64.00 L298.10 62.86 L297.86 61.99 L298.11 61.40 L298.00 61.81 L298.25 60.97 L298.66 60.06 L298.70 59.64 L298.96 58.64 L298.80 57.90 L299.01 57.01 L298.92 55.80 L299.26 55.51 L298.75 54.40 L299.45 53.81 L299.17 53.65 L299.61 52.49 L299.33 51.91 L299.50 51.30 L299.25 52.53 L299.35 53.38 L299.57 53.09 L300.21 54.69 L299.85 55.09 L300.15 56.05 L300.04 56.93 L300.77 57.52 L300.50 58.00 L301.00 59.26 L300.76 59.84 L301.28 60.21 L301.20 60.80 L301.01 60.20 L301.74 59.05 L301.65 59.06 L301.73 57.21 L301.86 56.74 L302.15 56.51 L301.84 56.06 L302.10 54.80 L302.42 55.39 L302.81 56.90 L303.08 57.69 L303.00 58.00 L303.22 59.00 L303.28 59.53 L303.67 60.06 L303.08 61.27 L303.50 61.81 L303.68 62.18 L303.47 62.70 L303.80 64.00 L304.10 65.27 L304.13 65.01 L304.43 66.67 L304.16 66.36 L304.50 67.91 L304.42 67.88 L304.59 68.65 L304.50 70.00 L304.61 70.26 L304.65 71.93 L305.08 72.55 L304.86 72.71 L305.22 72.98 L305.20 74.89 L305.40 75.00 L305.71 76.21 L305.47 76.73 L305.96 77.48 L305.81 77.57 L305.62 79.18 L306.39 79.19 L306.20 80.20 L306.45 80.82 L306.44 82.04 L306.31 82.51 L306.34 83.11 L306.27 83.57 L306.51 84.99 L306.50 85.54 L306.80 86.00 L306.64 87.20 L306.77 87.03 L306.89 88.56 L307.24 89.23 L307.23 89.22 L307.23 90.25 L307.40 91.00 L307.83 91.51 L307.63 92.89 L307.75 93.79 L308.02 94.25 L308.30 95.00 L308.67 95.98 L308.71 96.59 L309.20 97.00 L310.30 97.50 L310.31 98.35 L310.39 99.08 L310.59 99.41 L310.68 100.19 L311.00 101.00 L311.05 102.03 L311.27 102.41 L311.51 103.05 L311.36 104.22 L311.71 104.81 L311.83 105.24 L311.80 106.20 Z" fill="url(#stA)" stroke="#1a1a1a" stroke-width="1.0" stroke-linejoin="round"/>
<path d="M201.90 1.90H323.90V106.20" stroke="#6e6e6e" stroke-width="1.4" fill="none"/>
<path d="M201.90 1.40V108.40" stroke="#7a7a7a" stroke-width="1.2" fill="none"/>
<path d="M199.70 106.20H201.90M200.50 102.19H201.90M200.50 98.18H201.90M200.50 94.17H201.90M200.50 90.15H201.90M199.70 86.14H201.90M200.50 82.13H201.90M200.50 78.12H201.90M200.50 74.11H201.90M200.50 70.10H201.90M199.70 66.08H201.90M200.50 62.07H201.90M200.50 58.06H201.90M200.50 54.05H201.90M200.50 50.04H201.90M199.70 46.03H201.90M200.50 42.02H201.90M200.50 38.00H201.90M200.50 33.99H201.90M200.50 29.98H201.90M199.70 25.97H201.90M200.50 21.96H201.90M200.50 17.95H201.90M200.50 13.93H201.90M200.50 9.92H201.90M199.70 5.91H201.90M200.50 1.90H201.90" stroke="#333" stroke-width="0.9" fill="none"/>
<path d="M199.40 106.20H323.90" stroke="#1a1a1a" stroke-width="1.2" fill="none"/>
<path d="M201.90 106.20V108.80M211.08 106.20V107.80M216.45 106.20V107.80M220.26 106.20V107.80M223.22 106.20V107.80M225.63 106.20V107.80M227.68 106.20V107.80M229.44 106.20V107.80M231.00 106.20V107.80M232.40 106.20V108.80M241.58 106.20V107.80M246.95 106.20V107.80M250.76 106.20V107.80M253.72 106.20V107.80M256.13 106.20V107.80M258.18 106.20V107.80M259.94 106.20V107.80M261.50 106.20V107.80M262.90 106.20V108.80M272.08 106.20V107.80M277.45 106.20V107.80M281.26 106.20V107.80M284.22 106.20V107.80M286.63 106.20V107.80M288.68 106.20V107.80M290.44 106.20V107.80M292.00 106.20V107.80M293.40 106.20V108.80M302.58 106.20V107.80M307.95 106.20V107.80M311.76 106.20V107.80M314.72 106.20V107.80M317.13 106.20V107.80M319.18 106.20V107.80M320.94 106.20V107.80M322.50 106.20V107.80M323.90 106.20V108.80" stroke="#222" stroke-width="0.9" fill="none"/>
<text transform="translate(202.32,13.40) scale(1.0372,1)" font-size="11.2" fill="#000">24 hours</text>
<path d="M202.90 15.50H247.40" stroke="#222" stroke-width="1.2"/>
<text transform="translate(203.26,27.50) scale(1.0189,1)" font-size="11.2" font-style="italic" fill="#000">2932 CD34</text>
<path d="M261.90 21.20H265.30M263.60 19.30V23.10" stroke="#222" stroke-width="1.0" fill="none"/>
<text transform="translate(197.20,77.29) rotate(-90) scale(0.9911,1)" font-size="13.0" font-style="italic" fill="#000">counts</text>
<text transform="translate(253.00,116.50) scale(0.9671,1)" font-size="10.4" fill="#000">CFSE</text>
<path d="M427.00 106.10 L427.14 105.45 L427.29 104.80 L427.38 104.03 L427.24 103.01 L427.65 102.35 L427.60 101.50 L427.84 100.54 L427.77 99.89 L427.88 99.38 L427.76 98.42 L427.95 98.18 L428.25 96.92 L428.35 96.18 L428.36 95.44 L428.40 95.00 L428.62 96.03 L429.30 96.50 L429.34 95.59 L429.87 95.39 L429.72 94.77 L430.00 93.70 L430.14 93.14 L430.10 92.65 L430.47 91.97 L430.71 90.67 L430.55 89.83 L430.55 89.02 L430.76 88.81 L431.00 88.00 L430.84 87.39 L431.17 86.24 L431.60 85.63 L431.42 84.85 L431.80 83.61 L431.80 83.30 L432.19 82.02 L432.11 82.18 L431.69 81.37 L432.00 80.37 L431.81 78.99 L432.00 79.32 L432.09 78.33 L432.70 77.82 L432.34 76.32 L432.55 76.11 L432.60 75.00 L432.37 74.57 L432.98 73.96 L432.47 73.32 L432.59 71.80 L433.06 71.79 L432.93 71.04 L433.16 69.51 L433.06 68.59 L432.95 67.80 L433.50 68.14 L433.17 66.17 L433.50 66.00 L433.97 65.29 L433.63 64.16 L433.87 64.17 L433.87 62.90 L433.66 62.78 L433.74 61.49 L434.46 60.28 L434.30 60.00 L434.73 59.90 L434.90 59.02 L434.75 57.89 L435.30 57.30 L435.07 57.02 L435.23 55.81 L435.81 55.60 L435.83 54.37 L435.50 54.01 L435.53 52.73 L435.52 51.83 L435.54 52.19 L436.03 51.01 L435.72 49.93 L435.44 49.13 L435.80 48.70 L436.62 49.82 L437.00 50.00 L437.39 51.03 L438.21 51.58 L438.50 52.00 L438.77 51.62 L438.68 50.83 L438.76 49.84 L439.28 49.39 L439.06 49.00 L439.47 47.82 L439.50 47.00 L439.22 46.36 L439.51 45.82 L439.77 45.31 L440.01 44.58 L439.88 43.68 L440.28 43.22 L440.08 42.54 L440.58 41.64 L440.77 41.28 L440.50 40.00 L440.60 39.32 L440.42 39.00 L441.09 37.83 L440.99 37.42 L441.11 36.01 L441.23 35.82 L441.10 35.00 L441.29 34.18 L441.32 33.92 L441.40 33.14 L440.99 31.71 L441.38 31.62 L441.27 30.95 L441.65 29.41 L441.59 28.94 L441.34 28.10 L441.60 27.45 L441.57 26.55 L441.84 26.28 L442.02 25.83 L442.00 25.00 L441.85 24.79 L441.73 23.43 L442.00 22.72 L441.93 22.54 L442.18 20.80 L442.42 20.15 L442.42 19.74 L442.51 19.81 L442.74 18.40 L442.80 17.96 L442.51 16.60 L442.74 16.42 L443.07 16.21 L442.86 14.70 L443.14 13.53 L442.59 13.53 L443.03 12.26 L443.00 12.00 L443.14 11.77 L442.98 10.45 L442.91 9.54 L443.52 8.92 L443.55 8.88 L443.30 7.31 L443.64 6.88 L443.24 5.92 L443.72 5.41 L443.22 4.66 L443.13 4.12 L443.42 2.97 L443.50 2.50 L444.44 2.92 L444.58 2.54 L445.50 3.06 L446.40 2.50 L446.64 2.92 L446.26 3.56 L446.84 4.49 L446.56 5.47 L446.61 6.38 L446.71 6.51 L446.74 7.49 L446.59 8.29 L446.42 9.29 L446.60 10.00 L446.58 10.54 L446.81 11.54 L446.27 11.83 L446.60 13.39 L446.95 13.63 L446.28 14.64 L446.61 15.10 L446.84 15.88 L446.67 16.96 L446.61 17.00 L446.98 17.47 L446.56 18.99 L446.39 19.72 L446.88 19.91 L446.58 21.07 L447.07 20.97 L446.75 22.21 L446.77 22.64 L446.51 23.68 L447.03 23.73 L446.80 25.00 L446.61 26.12 L447.05 26.64 L446.48 27.43 L447.22 28.50 L447.03 27.99 L447.15 28.93 L447.01 30.58 L447.08 30.25 L446.77 31.96 L446.67 32.28 L446.89 32.42 L447.07 32.99 L446.68 34.13 L447.00 35.00 L446.71 35.15 L447.14 36.74 L447.42 36.67 L447.12 37.62 L447.29 38.56 L447.59 39.12 L447.30 40.00 L447.05 40.98 L447.22 41.61 L447.58 42.69 L447.71 43.05 L447.58 43.68 L447.67 44.66 L447.96 44.59 L447.83 45.62 L448.31 46.10 L448.39 47.43 L448.00 48.17 L448.09 48.20 L448.50 49.40 L448.76 49.77 L449.16 50.77 L448.93 51.88 L448.89 52.49 L449.09 52.45 L449.97 53.83 L449.60 53.81 L450.00 55.00 L450.53 55.93 L450.59 55.97 L450.61 56.96 L450.48 57.64 L450.94 58.38 L450.94 58.82 L451.20 60.00 L451.58 60.90 L451.68 61.33 L451.85 62.15 L451.77 62.93 L452.01 63.41 L451.64 63.65 L451.85 64.37 L452.50 65.64 L452.52 65.74 L452.43 67.58 L452.67 67.70 L452.70 68.50 L452.83 68.74 L452.75 69.57 L453.07 70.62 L453.61 71.08 L453.29 71.99 L453.37 72.76 L453.59 73.77 L453.59 75.09 L454.10 75.30 L454.14 76.61 L454.53 77.01 L454.51 78.09 L454.40 78.48 L454.67 79.23 L455.13 79.37 L454.90 79.96 L455.07 80.77 L455.40 82.00 L455.53 83.29 L455.71 83.34 L455.98 84.08 L456.35 85.31 L456.19 85.59 L456.70 87.07 L456.80 87.40 L457.38 87.86 L458.07 87.98 L458.05 89.24 L458.80 89.50 L459.03 89.75 L459.39 91.25 L459.65 91.35 L459.71 91.77 L460.20 92.80 L460.73 92.12 L461.08 91.06 L461.04 90.38 L461.50 90.10 L461.81 90.41 L462.11 91.42 L462.60 92.20 L462.96 91.13 L463.27 91.26 L463.81 90.17 L464.39 89.51 L464.90 88.80 L465.09 87.95 L465.54 87.51 L466.20 86.80 L466.54 86.18 L466.60 85.07 L466.16 84.69 L466.54 84.00 L466.56 83.34 L466.88 82.95 L466.68 81.71 L467.12 80.73 L466.72 80.11 L466.78 79.94 L467.39 78.67 L466.98 77.66 L467.15 76.94 L467.37 76.83 L467.32 75.46 L467.60 75.30 L467.81 73.99 L467.48 73.56 L467.66 72.59 L467.75 72.14 L468.06 71.72 L468.23 71.11 L468.18 70.28 L467.99 69.86 L468.20 69.31 L468.31 68.25 L468.01 67.66 L468.16 66.06 L468.30 65.80 L468.09 64.65 L468.36 64.58 L468.50 63.07 L468.99 62.98 L468.55 61.61 L468.75 61.28 L469.44 61.31 L469.37 59.67 L469.35 59.12 L469.40 57.95 L469.72 58.26 L469.95 56.61 L469.90 56.40 L470.05 56.72 L470.31 57.82 L470.60 59.01 L470.10 59.14 L470.83 60.07 L470.58 60.79 L470.96 62.17 L470.90 62.96 L471.00 63.10 L471.13 63.33 L471.35 64.47 L470.82 65.92 L470.86 66.14 L471.26 67.27 L471.24 67.15 L471.21 67.87 L471.48 68.81 L471.68 69.40 L471.43 70.14 L471.60 71.20 L472.03 72.37 L472.00 72.82 L471.71 72.95 L472.11 74.13 L471.56 74.46 L471.67 75.90 L472.35 75.97 L472.33 76.87 L472.31 78.28 L472.33 78.93 L472.30 79.30 L472.37 79.48 L472.62 80.91 L472.55 81.44 L472.80 81.80 L472.95 82.95 L473.22 84.05 L473.33 85.10 L473.74 85.78 L473.70 86.10 L474.04 87.01 L474.17 87.88 L474.29 88.42 L474.69 89.10 L474.69 89.44 L474.81 90.44 L475.30 91.54 L475.59 91.89 L475.70 92.80 L476.16 93.29 L476.30 93.81 L476.57 94.96 L476.91 95.80 L477.03 96.43 L477.30 96.93 L477.33 97.54 L477.70 98.20 L478.25 98.71 L478.66 99.60 L478.82 99.94 L479.20 100.74 L479.68 101.87 L480.16 102.38 L480.40 103.00 L480.89 103.36 L481.51 104.18 L482.04 104.66 L482.50 105.30 L483.50 106.10 Z" fill="url(#stA3)" stroke="#1a1a1a" stroke-width="1.0" stroke-linejoin="round"/>
<path d="M371.10 1.90H494.50V106.10" stroke="#6e6e6e" stroke-width="1.4" fill="none"/>
<path d="M371.10 1.40V108.30" stroke="#7a7a7a" stroke-width="1.2" fill="none"/>
<path d="M368.90 106.10H371.10M369.70 102.09H371.10M369.70 98.08H371.10M369.70 94.08H371.10M369.70 90.07H371.10M368.90 86.06H371.10M369.70 82.05H371.10M369.70 78.05H371.10M369.70 74.04H371.10M369.70 70.03H371.10M368.90 66.02H371.10M369.70 62.02H371.10M369.70 58.01H371.10M369.70 54.00H371.10M369.70 49.99H371.10M368.90 45.98H371.10M369.70 41.98H371.10M369.70 37.97H371.10M369.70 33.96H371.10M369.70 29.95H371.10M368.90 25.95H371.10M369.70 21.94H371.10M369.70 17.93H371.10M369.70 13.92H371.10M369.70 9.92H371.10M368.90 5.91H371.10M369.70 1.90H371.10" stroke="#333" stroke-width="0.9" fill="none"/>
<path d="M368.60 106.10H494.50" stroke="#1a1a1a" stroke-width="1.2" fill="none"/>
<path d="M371.10 106.10V108.70M380.39 106.10V107.70M385.82 106.10V107.70M389.67 106.10V107.70M392.66 106.10V107.70M395.11 106.10V107.70M397.17 106.10V107.70M398.96 106.10V107.70M400.54 106.10V107.70M401.95 106.10V108.70M411.24 106.10V107.70M416.67 106.10V107.70M420.52 106.10V107.70M423.51 106.10V107.70M425.96 106.10V107.70M428.02 106.10V107.70M429.81 106.10V107.70M431.39 106.10V107.70M432.80 106.10V108.70M442.09 106.10V107.70M447.52 106.10V107.70M451.37 106.10V107.70M454.36 106.10V107.70M456.81 106.10V107.70M458.87 106.10V107.70M460.66 106.10V107.70M462.24 106.10V107.70M463.65 106.10V108.70M472.94 106.10V107.70M478.37 106.10V107.70M482.22 106.10V107.70M485.21 106.10V107.70M487.66 106.10V107.70M489.72 106.10V107.70M491.51 106.10V107.70M493.09 106.10V107.70M494.50 106.10V108.70" stroke="#222" stroke-width="0.9" fill="none"/>
<text transform="translate(371.17,13.40) scale(1.0360,1)" font-size="11.2" fill="#000">48 hours</text>
<path d="M371.40 15.60H416.20" stroke="#222" stroke-width="1.2"/>
<text transform="translate(372.92,27.30) scale(0.9997,1)" font-size="11.2" font-style="italic" fill="#000">13628 CD34</text>
<path d="M436.90 21.20H440.30M438.60 19.30V23.10" stroke="#222" stroke-width="1.0" fill="none"/>
<text transform="translate(366.10,76.68) rotate(-90) scale(0.9752,1)" font-size="13.0" font-style="italic" fill="#000">counts</text>
<text transform="translate(422.79,116.50) scale(0.9746,1)" font-size="10.4" fill="#000">CFSE</text>
<path d="M107.10 226.60 L107.62 226.06 L107.96 225.08 L108.40 224.50 L109.04 224.74 L110.00 224.80 L110.72 224.84 L111.43 224.74 L112.20 224.50 L112.56 224.00 L113.15 223.12 L113.50 222.50 L113.95 221.98 L114.25 221.27 L114.80 220.60 L115.31 221.25 L115.71 222.31 L116.00 223.00 L117.12 222.65 L118.00 222.50 L118.52 222.45 L119.44 222.00 L120.00 221.80 L120.75 221.21 L121.80 221.00 L122.45 220.11 L123.00 219.50 L123.89 218.96 L124.40 218.30 L124.83 219.01 L125.50 219.50 L125.94 219.05 L126.50 218.00 L127.00 217.39 L127.21 216.90 L127.61 216.49 L127.80 215.50 L128.14 214.82 L128.98 214.21 L129.50 213.80 L130.05 212.55 L130.50 212.00 L131.04 211.36 L130.96 210.81 L131.50 210.00 L131.77 209.09 L132.24 208.40 L132.46 208.48 L133.00 207.50 L133.25 206.26 L133.44 205.50 L133.29 205.67 L133.61 204.29 L133.59 203.63 L133.80 203.00 L133.71 202.80 L133.81 201.39 L134.45 200.60 L134.78 199.66 L134.60 199.20 L135.05 198.91 L134.93 198.14 L134.86 197.30 L135.23 196.12 L135.08 195.59 L135.13 194.02 L135.49 193.48 L135.40 193.00 L135.57 192.65 L135.51 190.95 L135.66 190.96 L136.03 189.82 L136.28 189.96 L136.50 188.70 L136.64 189.35 L137.46 190.38 L137.50 191.00 L138.00 192.00 L138.16 191.17 L138.65 189.94 L139.00 189.60 L139.01 190.08 L139.43 190.84 L139.42 192.40 L139.72 192.37 L139.58 193.04 L139.60 194.00 L139.57 194.73 L139.93 196.06 L139.59 195.62 L139.76 196.44 L139.50 198.09 L139.61 198.77 L139.85 199.78 L140.00 200.00 L140.39 200.20 L140.07 201.94 L140.51 202.05 L140.76 203.21 L140.71 203.54 L140.60 204.14 L141.00 205.00 L140.88 205.84 L141.27 206.07 L141.38 206.74 L141.17 208.00 L141.48 208.96 L141.67 209.48 L141.70 210.00 L141.67 211.05 L141.83 211.60 L142.44 212.60 L142.40 213.00 L142.75 213.76 L142.81 214.83 L142.71 215.75 L143.23 216.16 L143.20 217.00 L143.49 217.71 L143.46 218.65 L143.55 219.45 L143.90 220.00 L144.32 220.70 L144.53 221.41 L144.60 222.50 L144.99 223.14 L145.29 224.00 L145.40 224.80 L145.98 225.46 L146.30 226.60 Z" fill="url(#stB)" stroke="#1a1a1a" stroke-width="1.0" stroke-linejoin="round"/>
<path d="M32.20 122.00H155.40V226.80" stroke="#6e6e6e" stroke-width="1.4" fill="none"/>
<path d="M32.20 121.50V229.00" stroke="#7a7a7a" stroke-width="1.2" fill="none"/>
<path d="M30.00 226.80H32.20M30.80 222.77H32.20M30.80 218.74H32.20M30.80 214.71H32.20M30.80 210.68H32.20M30.00 206.65H32.20M30.80 202.62H32.20M30.80 198.58H32.20M30.80 194.55H32.20M30.80 190.52H32.20M30.00 186.49H32.20M30.80 182.46H32.20M30.80 178.43H32.20M30.80 174.40H32.20M30.80 170.37H32.20M30.00 166.34H32.20M30.80 162.31H32.20M30.80 158.28H32.20M30.80 154.25H32.20M30.80 150.22H32.20M30.00 146.18H32.20M30.80 142.15H32.20M30.80 138.12H32.20M30.80 134.09H32.20M30.80 130.06H32.20M30.00 126.03H32.20M30.80 122.00H32.20" stroke="#333" stroke-width="0.9" fill="none"/>
<path d="M29.70 226.80H155.40" stroke="#1a1a1a" stroke-width="1.2" fill="none"/>
<path d="M32.20 226.80V229.40M41.47 226.80V228.40M46.90 226.80V228.40M50.74 226.80V228.40M53.73 226.80V228.40M56.17 226.80V228.40M58.23 226.80V228.40M60.02 226.80V228.40M61.59 226.80V228.40M63.00 226.80V229.40M72.27 226.80V228.40M77.70 226.80V228.40M81.54 226.80V228.40M84.53 226.80V228.40M86.97 226.80V228.40M89.03 226.80V228.40M90.82 226.80V228.40M92.39 226.80V228.40M93.80 226.80V229.40M103.07 226.80V228.40M108.50 226.80V228.40M112.34 226.80V228.40M115.33 226.80V228.40M117.77 226.80V228.40M119.83 226.80V228.40M121.62 226.80V228.40M123.19 226.80V228.40M124.60 226.80V229.40M133.87 226.80V228.40M139.30 226.80V228.40M143.14 226.80V228.40M146.13 226.80V228.40M148.57 226.80V228.40M150.63 226.80V228.40M152.42 226.80V228.40M153.99 226.80V228.40M155.40 226.80V229.40" stroke="#222" stroke-width="0.9" fill="none"/>
<text transform="translate(33.57,133.50) scale(1.0480,1)" font-size="11.2" fill="#000">4 hours</text>
<path d="M33.80 135.50H72.60" stroke="#222" stroke-width="1.2"/>
<text transform="translate(33.61,147.00) scale(1.0429,1)" font-size="11.2" font-style="italic" fill="#000">1070 CD34</text>
<path d="M93.60 141.00H97.00M95.30 139.10V142.90" stroke="#222" stroke-width="1.0" fill="none"/>
<text transform="translate(27.20,197.58) rotate(-90) scale(0.9672,1)" font-size="13.0" font-style="italic" fill="#000">counts</text>
<text transform="translate(84.60,237.40) scale(0.9709,1)" font-size="10.4" fill="#000">CFSE</text>
<path d="M274.60 226.50 L274.79 225.61 L275.13 224.84 L275.33 224.27 L275.41 223.62 L275.80 222.90 L277.00 222.50 L277.37 221.83 L277.91 220.98 L278.60 220.60 L279.04 221.44 L279.40 221.70 L280.00 222.50 L280.71 222.53 L281.36 221.97 L282.00 221.80 L283.17 221.78 L284.00 222.30 L284.80 221.91 L285.20 221.53 L286.00 221.50 L286.93 221.94 L288.00 222.00 L288.55 221.65 L289.39 221.12 L290.00 220.80 L290.77 219.87 L291.50 219.50 L291.65 218.56 L292.24 217.98 L292.50 217.30 L292.67 218.16 L292.98 218.76 L293.37 219.83 L293.50 220.50 L293.90 221.05 L294.50 221.50 L295.01 221.24 L295.50 220.50 L296.09 221.02 L296.50 221.80 L297.50 221.50 L298.50 221.50 L299.20 221.00 L299.59 219.75 L299.60 219.00 L299.77 218.23 L300.00 217.10 L299.89 216.32 L299.89 215.68 L300.28 214.83 L300.20 214.00 L300.41 213.09 L300.35 212.58 L300.32 211.71 L300.30 211.00 L300.64 210.66 L300.59 209.65 L300.50 208.94 L300.90 208.00 L301.19 207.72 L301.50 206.25 L301.50 205.70 L301.66 204.98 L301.66 203.86 L302.20 203.00 L302.38 201.77 L303.00 201.40 L303.03 202.40 L303.42 202.52 L304.00 203.50 L304.43 204.65 L305.00 205.00 L306.20 205.70 L306.25 206.55 L306.80 207.50 L307.03 208.87 L307.20 209.50 L307.42 210.58 L307.18 210.92 L307.28 212.09 L307.40 212.50 L307.68 212.98 L307.34 213.83 L307.42 214.81 L307.60 215.60 L307.87 216.22 L307.85 217.14 L308.30 218.00 L308.51 218.78 L309.01 219.59 L309.10 220.20 L309.56 221.07 L310.00 221.80 L310.56 222.24 L311.00 223.20 L311.67 224.02 L312.19 224.69 L312.60 225.20 L312.87 225.80 L313.20 226.50 Z" fill="url(#stB)" stroke="#1a1a1a" stroke-width="1.0" stroke-linejoin="round"/>
<path d="M203.10 121.80H325.40V226.50" stroke="#6e6e6e" stroke-width="1.4" fill="none"/>
<path d="M203.10 121.30V228.70" stroke="#7a7a7a" stroke-width="1.2" fill="none"/>
<path d="M200.90 226.50H203.10M201.70 222.47H203.10M201.70 218.45H203.10M201.70 214.42H203.10M201.70 210.39H203.10M200.90 206.37H203.10M201.70 202.34H203.10M201.70 198.31H203.10M201.70 194.28H203.10M201.70 190.26H203.10M200.90 186.23H203.10M201.70 182.20H203.10M201.70 178.18H203.10M201.70 174.15H203.10M201.70 170.12H203.10M200.90 166.10H203.10M201.70 162.07H203.10M201.70 158.04H203.10M201.70 154.02H203.10M201.70 149.99H203.10M200.90 145.96H203.10M201.70 141.93H203.10M201.70 137.91H203.10M201.70 133.88H203.10M201.70 129.85H203.10M200.90 125.83H203.10M201.70 121.80H203.10" stroke="#333" stroke-width="0.9" fill="none"/>
<path d="M200.60 226.50H325.40" stroke="#1a1a1a" stroke-width="1.2" fill="none"/>
<path d="M203.10 226.50V229.10M212.30 226.50V228.10M217.69 226.50V228.10M221.51 226.50V228.10M224.47 226.50V228.10M226.89 226.50V228.10M228.94 226.50V228.10M230.71 226.50V228.10M232.28 226.50V228.10M233.67 226.50V229.10M242.88 226.50V228.10M248.26 226.50V228.10M252.08 226.50V228.10M255.05 226.50V228.10M257.47 226.50V228.10M259.51 226.50V228.10M261.29 226.50V228.10M262.85 226.50V228.10M264.25 226.50V229.10M273.45 226.50V228.10M278.84 226.50V228.10M282.66 226.50V228.10M285.62 226.50V228.10M288.04 226.50V228.10M290.09 226.50V228.10M291.86 226.50V228.10M293.43 226.50V228.10M294.82 226.50V229.10M304.03 226.50V228.10M309.41 226.50V228.10M313.23 226.50V228.10M316.20 226.50V228.10M318.62 226.50V228.10M320.66 226.50V228.10M322.44 226.50V228.10M324.00 226.50V228.10M325.40 226.50V229.10" stroke="#222" stroke-width="0.9" fill="none"/>
<text transform="translate(204.52,133.10) scale(1.0325,1)" font-size="11.2" fill="#000">24 hours</text>
<path d="M205.10 135.20H249.40" stroke="#222" stroke-width="1.2"/>
<text transform="translate(205.22,146.90) scale(1.0135,1)" font-size="11.2" font-style="italic" fill="#000">584 CD34</text>
<path d="M257.10 140.90H260.50M258.80 139.00V142.80" stroke="#222" stroke-width="1.0" fill="none"/>
<text transform="translate(197.90,197.58) rotate(-90) scale(0.9672,1)" font-size="13.0" font-style="italic" fill="#000">counts</text>
<text transform="translate(254.60,237.30) scale(0.9522,1)" font-size="10.4" fill="#000">CFSE</text>
<path d="M429.60 226.70 L429.62 226.21 L429.68 225.36 L429.77 224.40 L430.17 223.65 L430.15 223.07 L430.18 222.36 L430.19 221.85 L430.24 220.75 L430.50 220.20 L431.07 220.70 L432.00 221.50 L432.97 221.65 L434.00 221.30 L434.62 221.29 L435.24 222.07 L436.00 222.00 L436.60 221.57 L437.49 221.10 L438.30 220.50 L438.81 221.19 L439.43 221.73 L440.00 222.20 L441.05 221.90 L441.80 221.50 L442.47 220.88 L443.40 220.80 L444.37 221.39 L445.00 222.00 L445.89 222.42 L447.00 222.30 L448.03 222.19 L449.00 221.80 L450.14 221.97 L451.00 222.40 L451.61 222.36 L452.20 222.03 L453.00 221.60 L453.85 221.67 L455.00 221.50 L455.84 221.35 L456.67 220.64 L457.30 220.20 L457.75 220.41 L458.44 221.07 L459.00 221.50 L459.40 221.25 L460.14 220.63 L460.70 220.00 L461.24 220.59 L462.00 221.50 L462.56 220.90 L463.50 220.50 L464.10 221.40 L464.31 220.55 L464.65 220.02 L465.00 219.00 L465.29 217.95 L465.20 217.11 L465.45 216.88 L465.50 215.70 L465.53 216.80 L465.75 217.15 L466.00 218.40 L466.40 218.40 L466.96 217.59 L467.30 217.00 L467.50 216.10 L468.00 215.30 L467.97 214.40 L468.17 213.58 L468.35 212.65 L468.40 212.00 L468.33 210.63 L468.70 210.00 L468.68 209.34 L469.02 208.95 L469.30 208.18 L469.50 207.30 L470.30 208.00 L470.86 206.91 L470.56 206.34 L471.05 206.13 L471.40 205.40 L471.78 205.95 L472.15 206.30 L472.10 207.50 L472.56 208.05 L472.85 208.72 L472.90 210.00 L473.32 210.99 L473.50 211.59 L473.25 212.68 L473.56 212.68 L473.81 213.78 L473.92 214.27 L474.10 215.30 L474.18 216.13 L474.58 216.56 L474.82 217.76 L475.19 218.35 L475.31 219.04 L475.60 219.90 L475.99 220.47 L476.58 221.19 L477.10 222.20 L478.13 222.72 L479.00 223.00 L479.70 223.23 L480.29 223.96 L481.00 224.50 L481.37 225.48 L482.08 225.97 L482.50 226.70 Z" fill="url(#stB)" stroke="#1a1a1a" stroke-width="1.0" stroke-linejoin="round"/>
<path d="M372.60 121.60H496.00V226.70" stroke="#6e6e6e" stroke-width="1.4" fill="none"/>
<path d="M372.60 121.10V228.90" stroke="#7a7a7a" stroke-width="1.2" fill="none"/>
<path d="M370.40 226.70H372.60M371.20 222.66H372.60M371.20 218.62H372.60M371.20 214.57H372.60M371.20 210.53H372.60M370.40 206.49H372.60M371.20 202.45H372.60M371.20 198.40H372.60M371.20 194.36H372.60M371.20 190.32H372.60M370.40 186.28H372.60M371.20 182.23H372.60M371.20 178.19H372.60M371.20 174.15H372.60M371.20 170.11H372.60M370.40 166.07H372.60M371.20 162.02H372.60M371.20 157.98H372.60M371.20 153.94H372.60M371.20 149.90H372.60M370.40 145.85H372.60M371.20 141.81H372.60M371.20 137.77H372.60M371.20 133.73H372.60M371.20 129.68H372.60M370.40 125.64H372.60M371.20 121.60H372.60" stroke="#333" stroke-width="0.9" fill="none"/>
<path d="M370.10 226.70H496.00" stroke="#1a1a1a" stroke-width="1.2" fill="none"/>
<path d="M372.60 226.70V229.30M381.89 226.70V228.30M387.32 226.70V228.30M391.17 226.70V228.30M394.16 226.70V228.30M396.61 226.70V228.30M398.67 226.70V228.30M400.46 226.70V228.30M402.04 226.70V228.30M403.45 226.70V229.30M412.74 226.70V228.30M418.17 226.70V228.30M422.02 226.70V228.30M425.01 226.70V228.30M427.46 226.70V228.30M429.52 226.70V228.30M431.31 226.70V228.30M432.89 226.70V228.30M434.30 226.70V229.30M443.59 226.70V228.30M449.02 226.70V228.30M452.87 226.70V228.30M455.86 226.70V228.30M458.31 226.70V228.30M460.37 226.70V228.30M462.16 226.70V228.30M463.74 226.70V228.30M465.15 226.70V229.30M474.44 226.70V228.30M479.87 226.70V228.30M483.72 226.70V228.30M486.71 226.70V228.30M489.16 226.70V228.30M491.22 226.70V228.30M493.01 226.70V228.30M494.59 226.70V228.30M496.00 226.70V229.30" stroke="#222" stroke-width="0.9" fill="none"/>
<text transform="translate(374.87,133.10) scale(1.0244,1)" font-size="11.2" fill="#000">48 hours</text>
<path d="M375.10 135.20H419.40" stroke="#222" stroke-width="1.2"/>
<text transform="translate(374.88,146.90) scale(1.0123,1)" font-size="11.2" font-style="italic" fill="#000">621 CD34</text>
<path d="M426.70 140.90H430.10M428.40 139.00V142.80" stroke="#222" stroke-width="1.0" fill="none"/>
<text transform="translate(367.20,197.58) rotate(-90) scale(0.9672,1)" font-size="13.0" font-style="italic" fill="#000">counts</text>
<text transform="translate(424.10,237.30) scale(0.9709,1)" font-size="10.4" fill="#000">CFSE</text>
<text transform="translate(-0.49,18.90) scale(1.0282,1)" font-size="27" font-weight="bold" fill="#000">A</text>
<text transform="translate(-2.05,140.10) scale(0.9957,1)" font-size="27" font-weight="bold" fill="#000">B</text>
<text transform="translate(-0.81,264.60) scale(0.9386,1)" font-size="27" font-weight="bold" fill="#000">C</text>
<path d="M58.90 335.37H245.50M58.90 318.33H245.50M58.90 301.30H245.50M58.90 284.27H245.50M58.90 267.23H245.50M58.90 250.20H245.50" stroke="#f4f4f4" stroke-width="1" stroke-dasharray="7 3" fill="none"/>
<path d="M57.90 250.20V355.60" stroke="#5a5a5a" stroke-width="1.3" fill="none"/>
<path d="M55.10 352.40H57.90M55.10 335.37H57.90M55.10 318.33H57.90M55.10 301.30H57.90M55.10 284.27H57.90M55.10 267.23H57.90M55.10 250.20H57.90" stroke="#333" stroke-width="1.1" fill="none"/>
<path d="M55.10 352.40H245.40" stroke="#1a1a1a" stroke-width="1.3" fill="none"/>
<path d="M89.15 352.40V355.80M120.40 352.40V355.80M151.65 352.40V355.80M182.90 352.40V355.80M214.15 352.40V355.80M245.40 352.40V355.80" stroke="#222" stroke-width="1.1" fill="none"/>
<text transform="translate(47.06,356.00) scale(0.9300,1)" font-size="10.0" fill="#000">0</text>
<text transform="translate(36.74,338.97) scale(0.9300,1)" font-size="10.0" fill="#000">100</text>
<text transform="translate(36.74,321.93) scale(0.9300,1)" font-size="10.0" fill="#000">200</text>
<text transform="translate(36.74,304.90) scale(0.9300,1)" font-size="10.0" fill="#000">300</text>
<text transform="translate(36.74,287.87) scale(0.9300,1)" font-size="10.0" fill="#000">400</text>
<text transform="translate(36.74,270.83) scale(0.9300,1)" font-size="10.0" fill="#000">500</text>
<text transform="translate(36.74,253.80) scale(0.9300,1)" font-size="10.0" fill="#000">600</text>
<text transform="translate(55.14,371.40) scale(0.9300,1)" font-size="10.6" fill="#000">0</text>
<text transform="translate(86.39,371.40) scale(0.9300,1)" font-size="10.6" fill="#000">8</text>
<text transform="translate(114.76,371.40) scale(0.9300,1)" font-size="10.6" fill="#000">16</text>
<text transform="translate(146.08,371.40) scale(0.9300,1)" font-size="10.6" fill="#000">24</text>
<text transform="translate(177.48,371.40) scale(0.9300,1)" font-size="10.6" fill="#000">32</text>
<text transform="translate(208.75,371.40) scale(0.9300,1)" font-size="10.6" fill="#000">40</text>
<text transform="translate(240.03,371.40) scale(0.9300,1)" font-size="10.6" fill="#000">48</text>
<path d="M57.90 335.37 L73.53 345.59 L151.65 348.14 L245.40 348.31" stroke="#111" stroke-width="1.3" fill="none"/>
<path d="M57.90 335.37 L73.53 335.37 L151.65 332.30" stroke="#111" stroke-width="1.6" stroke-dasharray="6.1 3.4" fill="none"/>
<path d="M151.65 332.30 L245.40 261.27" stroke="#000" stroke-width="2.0" stroke-dasharray="6.1 3.4" fill="none"/>
<rect x="54.10" y="331.27" width="7.6" height="8.2" fill="#000"/><rect x="69.73" y="341.49" width="7.6" height="8.2" fill="#000"/><rect x="147.85" y="344.04" width="7.6" height="8.2" fill="#000"/><rect x="241.60" y="344.21" width="7.6" height="8.2" fill="#000"/>
<ellipse cx="57.90" cy="335.37" rx="4.35" ry="5.1" fill="#000"/><ellipse cx="73.53" cy="335.37" rx="4.35" ry="5.1" fill="#000"/><ellipse cx="151.65" cy="332.30" rx="4.35" ry="5.1" fill="#000"/><ellipse cx="245.40" cy="261.27" rx="4.35" ry="5.1" fill="#000"/>
<path d="M299.30 333.97H512.00M299.30 317.23H512.00M299.30 300.50H512.00M299.30 283.77H512.00M299.30 267.03H512.00M299.30 250.30H512.00" stroke="#e6e6e6" stroke-width="1" stroke-dasharray="8 3.5" fill="none"/>
<path d="M298.30 250.30V353.90" stroke="#5a5a5a" stroke-width="1.3" fill="none"/>
<path d="M295.50 350.70H298.30M295.50 333.97H298.30M295.50 317.23H298.30M295.50 300.50H298.30M295.50 283.77H298.30M295.50 267.03H298.30M295.50 250.30H298.30" stroke="#333" stroke-width="1.1" fill="none"/>
<path d="M295.50 350.70H511.60" stroke="#1a1a1a" stroke-width="1.3" fill="none"/>
<path d="M333.85 350.70V354.10M369.40 350.70V354.10M404.95 350.70V354.10M440.50 350.70V354.10M476.05 350.70V354.10M511.60 350.70V354.10" stroke="#222" stroke-width="1.1" fill="none"/>
<text transform="translate(285.60,354.30) scale(1.0000,1)" font-size="10.0" fill="#000">0</text>
<text transform="translate(274.50,337.57) scale(1.0000,1)" font-size="10.0" fill="#000">100</text>
<text transform="translate(274.50,320.83) scale(1.0000,1)" font-size="10.0" fill="#000">200</text>
<text transform="translate(274.50,304.10) scale(1.0000,1)" font-size="10.0" fill="#000">300</text>
<text transform="translate(274.50,287.37) scale(1.0000,1)" font-size="10.0" fill="#000">400</text>
<text transform="translate(274.50,270.63) scale(1.0000,1)" font-size="10.0" fill="#000">500</text>
<text transform="translate(274.50,253.90) scale(1.0000,1)" font-size="10.0" fill="#000">600</text>
<text transform="translate(295.28,370.80) scale(1.0000,1)" font-size="10.8" fill="#000">0</text>
<text transform="translate(330.83,370.80) scale(1.0000,1)" font-size="10.8" fill="#000">8</text>
<text transform="translate(363.22,370.80) scale(1.0000,1)" font-size="10.8" fill="#000">16</text>
<text transform="translate(398.85,370.80) scale(1.0000,1)" font-size="10.8" fill="#000">24</text>
<text transform="translate(434.56,370.80) scale(1.0000,1)" font-size="10.8" fill="#000">32</text>
<text transform="translate(470.14,370.80) scale(1.0000,1)" font-size="10.8" fill="#000">40</text>
<text transform="translate(505.71,370.80) scale(1.0000,1)" font-size="10.8" fill="#000">48</text>
<path d="M298.30 333.97 L316.07 337.65 L404.95 344.84 L511.60 345.35" stroke="#111" stroke-width="1.3" fill="none"/>
<path d="M298.30 333.97 L316.07 333.97 L404.95 331.96" stroke="#111" stroke-width="1.6" stroke-dasharray="7 3.7" fill="none"/>
<path d="M404.95 331.96 L511.60 311.38" stroke="#000" stroke-width="1.8" stroke-dasharray="7 3.7" fill="none"/>
<ellipse cx="298.30" cy="333.97" rx="4.8" ry="5.0" fill="#000"/><ellipse cx="316.07" cy="333.97" rx="4.8" ry="5.0" fill="#000"/><ellipse cx="404.95" cy="331.96" rx="4.8" ry="5.0" fill="#000"/><ellipse cx="511.60" cy="311.38" rx="4.8" ry="5.0" fill="#000"/>
<rect x="293.50" y="328.77" width="9.6" height="10.4" fill="#000"/><rect x="311.27" y="332.45" width="9.6" height="10.4" fill="#000"/><rect x="400.15" y="339.64" width="9.6" height="10.4" fill="#000"/><rect x="506.80" y="340.15" width="9.6" height="10.4" fill="#000"/>
<text transform="translate(29.60,352.37) rotate(-90) scale(1.0435,1)" font-size="10.4" font-weight="bold" fill="#000">% specific survival</text>
<text transform="translate(266.60,350.27) rotate(-90) scale(1.0479,1)" font-size="10.4" font-weight="bold" fill="#000">% specific survival</text>
<text transform="translate(76.50,265.00) scale(0.9321,1)" font-size="10.6" font-weight="bold" fill="#000">CD34</text>
<path d="M101.90 257.60H104.90M103.40 255.90V259.30" stroke="#000" stroke-width="1.1" fill="none"/>
<text transform="translate(108.29,265.00) scale(0.9632,1)" font-size="10.6" font-weight="bold" fill="#000">cells</text>
<text transform="translate(323.29,263.20) scale(1.0093,1)" font-size="10.6" font-weight="bold" fill="#000">total CFSE</text>
<path d="M377.50 255.50H380.50M379.00 253.80V257.20" stroke="#000" stroke-width="1.1" fill="none"/>
<text transform="translate(383.35,263.20) scale(1.0555,1)" font-size="10.6" font-weight="bold" fill="#000">cells</text>
<text transform="translate(123.40,387.40) scale(0.8419,1)" font-size="11.4" font-weight="bold" fill="#000">time (hours)</text>
<text transform="translate(372.29,385.40) scale(0.9769,1)" font-size="11.4" font-weight="bold" fill="#000">time (hours)</text>
</svg>
</body></html>
